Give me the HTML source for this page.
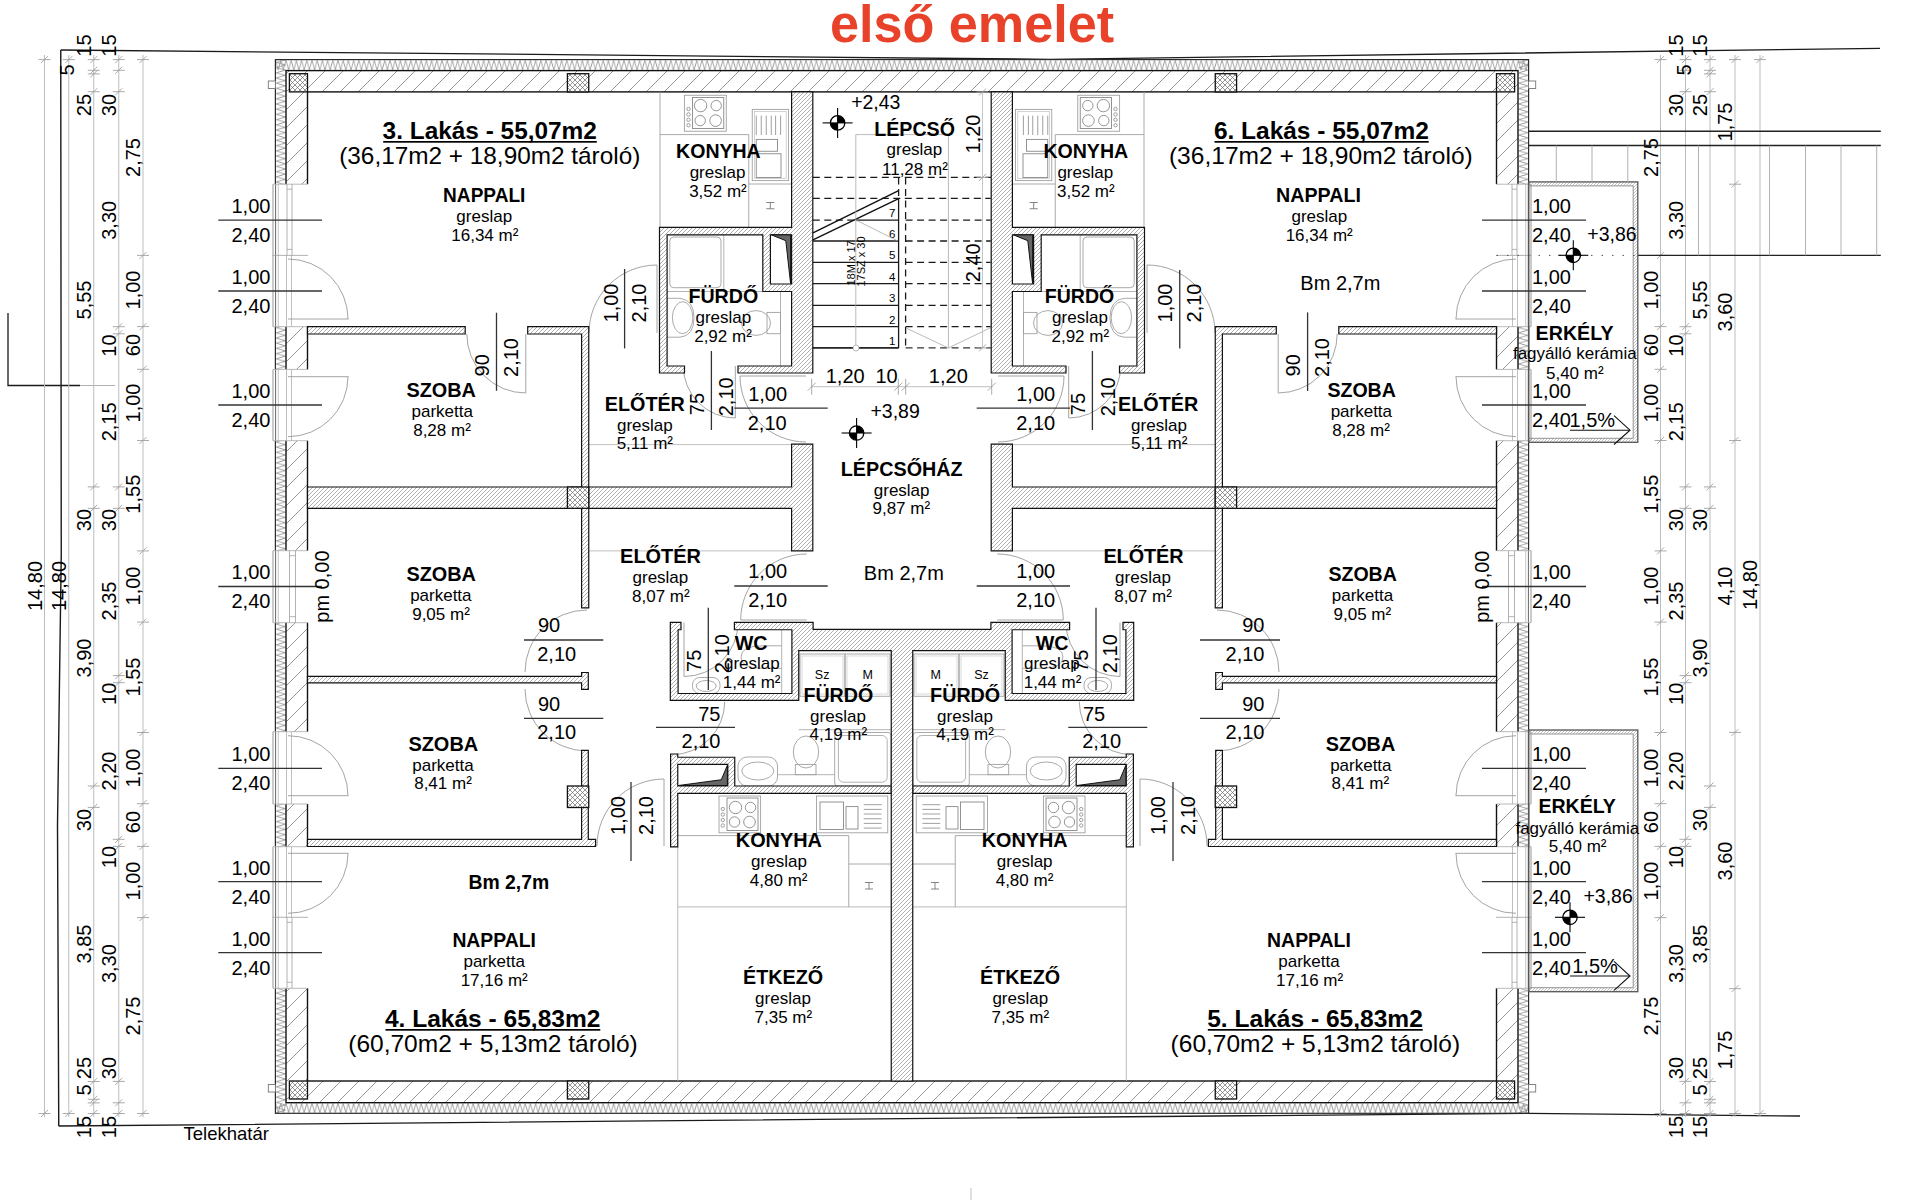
<!DOCTYPE html><html><head><meta charset="utf-8"><style>html,body{margin:0;padding:0;background:#fff;overflow:hidden}svg{display:block}text{font-family:"Liberation Sans",sans-serif}</style></head><body>
<svg width="1920" height="1200" viewBox="0 0 1920 1200">
<rect width="1920" height="1200" fill="#fff"/>
<defs>
<pattern id="hS" patternUnits="userSpaceOnUse" width="18" height="18"><path d="M0,18 L18,0 M-3,3 L3,-3 M15,21 L21,15" stroke="#8c8c8c" stroke-width="0.9" fill="none"/></pattern>
<pattern id="hD" patternUnits="userSpaceOnUse" width="4" height="4"><path d="M0,4 L4,0 M-1,1 L1,-1 M3,5 L5,3" stroke="#7a7a7a" stroke-width="0.6" fill="none"/></pattern>
<pattern id="hX" patternUnits="userSpaceOnUse" width="5" height="5"><path d="M0,5 L5,0 M0,0 L5,5" stroke="#6a6a6a" stroke-width="0.7" fill="none"/></pattern>
<pattern id="zT" patternUnits="userSpaceOnUse" x="0" y="59.6" width="5.2" height="11"><path d="M0,0.5 L2.6,10.5 L5.2,0.5" stroke="#8a8a8a" stroke-width="0.8" fill="none"/></pattern>
<pattern id="zB" patternUnits="userSpaceOnUse" x="0" y="1102.7" width="5.2" height="10.6"><path d="M0,0.5 L2.6,10.1 L5.2,0.5" stroke="#8a8a8a" stroke-width="0.8" fill="none"/></pattern>
<pattern id="zL" patternUnits="userSpaceOnUse" x="275.4" y="0" width="10.6" height="5.2"><path d="M0.5,0 L10.1,2.6 L0.5,5.2" stroke="#8a8a8a" stroke-width="0.8" fill="none"/></pattern>
<pattern id="zR" patternUnits="userSpaceOnUse" x="1518" y="0" width="10.6" height="5.2"><path d="M0.5,0 L10.1,2.6 L0.5,5.2" stroke="#8a8a8a" stroke-width="0.8" fill="none"/></pattern>
<pattern id="zE" patternUnits="userSpaceOnUse" width="3" height="3"><path d="M0,3 L3,0" stroke="#9a9a9a" stroke-width="0.6" fill="none"/></pattern>
</defs>
<path d="M60.75,50 L61.25,555 L57.5,825 L58.75,1126" fill="none" stroke="#1a1a1a" stroke-width="1.4" />
<path d="M60.75,50 L1050,59.3 L1880,48.3" fill="none" stroke="#1a1a1a" stroke-width="1.3" />
<path d="M58.75,1126 L1528.6,1113.3 L1800,1116" fill="none" stroke="#1a1a1a" stroke-width="1.3" />
<path d="M8,313 L8,385.5 L80,385.5" fill="none" stroke="#1a1a1a" stroke-width="1.3" />
<line x1="80" y1="385.5" x2="115" y2="385.5" stroke="#b0b0b0" stroke-width="1" />
<line x1="971" y1="1188" x2="971" y2="1200" stroke="#c0c0c0" stroke-width="1" />
<line x1="44.5" y1="55" x2="44.5" y2="1117" stroke="#bdbdbd" stroke-width="1" />
<line x1="68.75" y1="55" x2="68.75" y2="1117" stroke="#bdbdbd" stroke-width="1" />
<line x1="93.75" y1="55" x2="93.75" y2="1117" stroke="#bdbdbd" stroke-width="1" />
<line x1="118.75" y1="55" x2="118.75" y2="1117" stroke="#bdbdbd" stroke-width="1" />
<line x1="143" y1="55" x2="143" y2="1117" stroke="#bdbdbd" stroke-width="1" />
<line x1="1760" y1="55" x2="1760" y2="1117" stroke="#bdbdbd" stroke-width="1" />
<line x1="1735" y1="55" x2="1735" y2="1117" stroke="#bdbdbd" stroke-width="1" />
<line x1="1710" y1="55" x2="1710" y2="1117" stroke="#bdbdbd" stroke-width="1" />
<line x1="1685.5" y1="55" x2="1685.5" y2="1117" stroke="#bdbdbd" stroke-width="1" />
<line x1="1660.5" y1="55" x2="1660.5" y2="1117" stroke="#bdbdbd" stroke-width="1" />
<line x1="38.5" y1="59.6" x2="50.5" y2="59.6" stroke="#a0a0a0" stroke-width="0.9" />
<line x1="41" y1="63.1" x2="48" y2="56.1" stroke="#a0a0a0" stroke-width="0.9" />
<line x1="38.5" y1="1113.5" x2="50.5" y2="1113.5" stroke="#a0a0a0" stroke-width="0.9" />
<line x1="41" y1="1117" x2="48" y2="1110" stroke="#a0a0a0" stroke-width="0.9" />
<line x1="62.75" y1="59.6" x2="74.75" y2="59.6" stroke="#a0a0a0" stroke-width="0.9" />
<line x1="65.25" y1="63.1" x2="72.25" y2="56.1" stroke="#a0a0a0" stroke-width="0.9" />
<line x1="62.75" y1="1113.5" x2="74.75" y2="1113.5" stroke="#a0a0a0" stroke-width="0.9" />
<line x1="65.25" y1="1117" x2="72.25" y2="1110" stroke="#a0a0a0" stroke-width="0.9" />
<line x1="87.75" y1="59.6" x2="99.75" y2="59.6" stroke="#a0a0a0" stroke-width="0.9" />
<line x1="90.25" y1="63.1" x2="97.25" y2="56.1" stroke="#a0a0a0" stroke-width="0.9" />
<line x1="87.75" y1="70.3" x2="99.75" y2="70.3" stroke="#a0a0a0" stroke-width="0.9" />
<line x1="90.25" y1="73.8" x2="97.25" y2="66.8" stroke="#a0a0a0" stroke-width="0.9" />
<line x1="87.75" y1="73.9" x2="99.75" y2="73.9" stroke="#a0a0a0" stroke-width="0.9" />
<line x1="90.25" y1="77.4" x2="97.25" y2="70.4" stroke="#a0a0a0" stroke-width="0.9" />
<line x1="87.75" y1="91.7" x2="99.75" y2="91.7" stroke="#a0a0a0" stroke-width="0.9" />
<line x1="90.25" y1="95.2" x2="97.25" y2="88.2" stroke="#a0a0a0" stroke-width="0.9" />
<line x1="87.75" y1="486.9" x2="99.75" y2="486.9" stroke="#a0a0a0" stroke-width="0.9" />
<line x1="90.25" y1="490.4" x2="97.25" y2="483.4" stroke="#a0a0a0" stroke-width="0.9" />
<line x1="87.75" y1="508.3" x2="99.75" y2="508.3" stroke="#a0a0a0" stroke-width="0.9" />
<line x1="90.25" y1="511.8" x2="97.25" y2="504.8" stroke="#a0a0a0" stroke-width="0.9" />
<line x1="87.75" y1="786" x2="99.75" y2="786" stroke="#a0a0a0" stroke-width="0.9" />
<line x1="90.25" y1="789.5" x2="97.25" y2="782.5" stroke="#a0a0a0" stroke-width="0.9" />
<line x1="87.75" y1="807.4" x2="99.75" y2="807.4" stroke="#a0a0a0" stroke-width="0.9" />
<line x1="90.25" y1="810.9" x2="97.25" y2="803.9" stroke="#a0a0a0" stroke-width="0.9" />
<line x1="87.75" y1="1081.5" x2="99.75" y2="1081.5" stroke="#a0a0a0" stroke-width="0.9" />
<line x1="90.25" y1="1085" x2="97.25" y2="1078" stroke="#a0a0a0" stroke-width="0.9" />
<line x1="87.75" y1="1099.3" x2="99.75" y2="1099.3" stroke="#a0a0a0" stroke-width="0.9" />
<line x1="90.25" y1="1102.8" x2="97.25" y2="1095.8" stroke="#a0a0a0" stroke-width="0.9" />
<line x1="87.75" y1="1102.9" x2="99.75" y2="1102.9" stroke="#a0a0a0" stroke-width="0.9" />
<line x1="90.25" y1="1106.4" x2="97.25" y2="1099.4" stroke="#a0a0a0" stroke-width="0.9" />
<line x1="87.75" y1="1113.5" x2="99.75" y2="1113.5" stroke="#a0a0a0" stroke-width="0.9" />
<line x1="90.25" y1="1117" x2="97.25" y2="1110" stroke="#a0a0a0" stroke-width="0.9" />
<line x1="112.75" y1="59.6" x2="124.75" y2="59.6" stroke="#a0a0a0" stroke-width="0.9" />
<line x1="115.25" y1="63.1" x2="122.25" y2="56.1" stroke="#a0a0a0" stroke-width="0.9" />
<line x1="112.75" y1="70.3" x2="124.75" y2="70.3" stroke="#a0a0a0" stroke-width="0.9" />
<line x1="115.25" y1="73.8" x2="122.25" y2="66.8" stroke="#a0a0a0" stroke-width="0.9" />
<line x1="112.75" y1="91.7" x2="124.75" y2="91.7" stroke="#a0a0a0" stroke-width="0.9" />
<line x1="115.25" y1="95.2" x2="122.25" y2="88.2" stroke="#a0a0a0" stroke-width="0.9" />
<line x1="112.75" y1="326.7" x2="124.75" y2="326.7" stroke="#a0a0a0" stroke-width="0.9" />
<line x1="115.25" y1="330.2" x2="122.25" y2="323.2" stroke="#a0a0a0" stroke-width="0.9" />
<line x1="112.75" y1="333.8" x2="124.75" y2="333.8" stroke="#a0a0a0" stroke-width="0.9" />
<line x1="115.25" y1="337.3" x2="122.25" y2="330.3" stroke="#a0a0a0" stroke-width="0.9" />
<line x1="112.75" y1="486.9" x2="124.75" y2="486.9" stroke="#a0a0a0" stroke-width="0.9" />
<line x1="115.25" y1="490.4" x2="122.25" y2="483.4" stroke="#a0a0a0" stroke-width="0.9" />
<line x1="112.75" y1="508.3" x2="124.75" y2="508.3" stroke="#a0a0a0" stroke-width="0.9" />
<line x1="115.25" y1="511.8" x2="122.25" y2="504.8" stroke="#a0a0a0" stroke-width="0.9" />
<line x1="112.75" y1="675.6" x2="124.75" y2="675.6" stroke="#a0a0a0" stroke-width="0.9" />
<line x1="115.25" y1="679.1" x2="122.25" y2="672.1" stroke="#a0a0a0" stroke-width="0.9" />
<line x1="112.75" y1="682.7" x2="124.75" y2="682.7" stroke="#a0a0a0" stroke-width="0.9" />
<line x1="115.25" y1="686.2" x2="122.25" y2="679.2" stroke="#a0a0a0" stroke-width="0.9" />
<line x1="112.75" y1="839.3" x2="124.75" y2="839.3" stroke="#a0a0a0" stroke-width="0.9" />
<line x1="115.25" y1="842.8" x2="122.25" y2="835.8" stroke="#a0a0a0" stroke-width="0.9" />
<line x1="112.75" y1="846.4" x2="124.75" y2="846.4" stroke="#a0a0a0" stroke-width="0.9" />
<line x1="115.25" y1="849.9" x2="122.25" y2="842.9" stroke="#a0a0a0" stroke-width="0.9" />
<line x1="112.75" y1="1081.4" x2="124.75" y2="1081.4" stroke="#a0a0a0" stroke-width="0.9" />
<line x1="115.25" y1="1084.9" x2="122.25" y2="1077.9" stroke="#a0a0a0" stroke-width="0.9" />
<line x1="112.75" y1="1102.8" x2="124.75" y2="1102.8" stroke="#a0a0a0" stroke-width="0.9" />
<line x1="115.25" y1="1106.3" x2="122.25" y2="1099.3" stroke="#a0a0a0" stroke-width="0.9" />
<line x1="112.75" y1="1113.5" x2="124.75" y2="1113.5" stroke="#a0a0a0" stroke-width="0.9" />
<line x1="115.25" y1="1117" x2="122.25" y2="1110" stroke="#a0a0a0" stroke-width="0.9" />
<line x1="137" y1="59.6" x2="149" y2="59.6" stroke="#a0a0a0" stroke-width="0.9" />
<line x1="139.5" y1="63.1" x2="146.5" y2="56.1" stroke="#a0a0a0" stroke-width="0.9" />
<line x1="137" y1="255.4" x2="149" y2="255.4" stroke="#a0a0a0" stroke-width="0.9" />
<line x1="139.5" y1="258.9" x2="146.5" y2="251.9" stroke="#a0a0a0" stroke-width="0.9" />
<line x1="137" y1="326.6" x2="149" y2="326.6" stroke="#a0a0a0" stroke-width="0.9" />
<line x1="139.5" y1="330.1" x2="146.5" y2="323.1" stroke="#a0a0a0" stroke-width="0.9" />
<line x1="137" y1="369.3" x2="149" y2="369.3" stroke="#a0a0a0" stroke-width="0.9" />
<line x1="139.5" y1="372.8" x2="146.5" y2="365.8" stroke="#a0a0a0" stroke-width="0.9" />
<line x1="137" y1="440.5" x2="149" y2="440.5" stroke="#a0a0a0" stroke-width="0.9" />
<line x1="139.5" y1="444" x2="146.5" y2="437" stroke="#a0a0a0" stroke-width="0.9" />
<line x1="137" y1="550.9" x2="149" y2="550.9" stroke="#a0a0a0" stroke-width="0.9" />
<line x1="139.5" y1="554.4" x2="146.5" y2="547.4" stroke="#a0a0a0" stroke-width="0.9" />
<line x1="137" y1="622.1" x2="149" y2="622.1" stroke="#a0a0a0" stroke-width="0.9" />
<line x1="139.5" y1="625.6" x2="146.5" y2="618.6" stroke="#a0a0a0" stroke-width="0.9" />
<line x1="137" y1="732.5" x2="149" y2="732.5" stroke="#a0a0a0" stroke-width="0.9" />
<line x1="139.5" y1="736" x2="146.5" y2="729" stroke="#a0a0a0" stroke-width="0.9" />
<line x1="137" y1="803.7" x2="149" y2="803.7" stroke="#a0a0a0" stroke-width="0.9" />
<line x1="139.5" y1="807.2" x2="146.5" y2="800.2" stroke="#a0a0a0" stroke-width="0.9" />
<line x1="137" y1="846.4" x2="149" y2="846.4" stroke="#a0a0a0" stroke-width="0.9" />
<line x1="139.5" y1="849.9" x2="146.5" y2="842.9" stroke="#a0a0a0" stroke-width="0.9" />
<line x1="137" y1="917.6" x2="149" y2="917.6" stroke="#a0a0a0" stroke-width="0.9" />
<line x1="139.5" y1="921.1" x2="146.5" y2="914.1" stroke="#a0a0a0" stroke-width="0.9" />
<line x1="137" y1="1113.5" x2="149" y2="1113.5" stroke="#a0a0a0" stroke-width="0.9" />
<line x1="139.5" y1="1117" x2="146.5" y2="1110" stroke="#a0a0a0" stroke-width="0.9" />
<line x1="1754" y1="59.6" x2="1766" y2="59.6" stroke="#a0a0a0" stroke-width="0.9" />
<line x1="1756.5" y1="63.1" x2="1763.5" y2="56.1" stroke="#a0a0a0" stroke-width="0.9" />
<line x1="1754" y1="1113.5" x2="1766" y2="1113.5" stroke="#a0a0a0" stroke-width="0.9" />
<line x1="1756.5" y1="1117" x2="1763.5" y2="1110" stroke="#a0a0a0" stroke-width="0.9" />
<line x1="1729" y1="59.6" x2="1741" y2="59.6" stroke="#a0a0a0" stroke-width="0.9" />
<line x1="1731.5" y1="63.1" x2="1738.5" y2="56.1" stroke="#a0a0a0" stroke-width="0.9" />
<line x1="1729" y1="184.2" x2="1741" y2="184.2" stroke="#a0a0a0" stroke-width="0.9" />
<line x1="1731.5" y1="187.7" x2="1738.5" y2="180.7" stroke="#a0a0a0" stroke-width="0.9" />
<line x1="1729" y1="440.5" x2="1741" y2="440.5" stroke="#a0a0a0" stroke-width="0.9" />
<line x1="1731.5" y1="444" x2="1738.5" y2="437" stroke="#a0a0a0" stroke-width="0.9" />
<line x1="1729" y1="732.4" x2="1741" y2="732.4" stroke="#a0a0a0" stroke-width="0.9" />
<line x1="1731.5" y1="735.9" x2="1738.5" y2="728.9" stroke="#a0a0a0" stroke-width="0.9" />
<line x1="1729" y1="988.7" x2="1741" y2="988.7" stroke="#a0a0a0" stroke-width="0.9" />
<line x1="1731.5" y1="992.2" x2="1738.5" y2="985.2" stroke="#a0a0a0" stroke-width="0.9" />
<line x1="1729" y1="1113.5" x2="1741" y2="1113.5" stroke="#a0a0a0" stroke-width="0.9" />
<line x1="1731.5" y1="1117" x2="1738.5" y2="1110" stroke="#a0a0a0" stroke-width="0.9" />
<line x1="1704" y1="59.6" x2="1716" y2="59.6" stroke="#a0a0a0" stroke-width="0.9" />
<line x1="1706.5" y1="63.1" x2="1713.5" y2="56.1" stroke="#a0a0a0" stroke-width="0.9" />
<line x1="1704" y1="70.3" x2="1716" y2="70.3" stroke="#a0a0a0" stroke-width="0.9" />
<line x1="1706.5" y1="73.8" x2="1713.5" y2="66.8" stroke="#a0a0a0" stroke-width="0.9" />
<line x1="1704" y1="73.9" x2="1716" y2="73.9" stroke="#a0a0a0" stroke-width="0.9" />
<line x1="1706.5" y1="77.4" x2="1713.5" y2="70.4" stroke="#a0a0a0" stroke-width="0.9" />
<line x1="1704" y1="91.7" x2="1716" y2="91.7" stroke="#a0a0a0" stroke-width="0.9" />
<line x1="1706.5" y1="95.2" x2="1713.5" y2="88.2" stroke="#a0a0a0" stroke-width="0.9" />
<line x1="1704" y1="486.9" x2="1716" y2="486.9" stroke="#a0a0a0" stroke-width="0.9" />
<line x1="1706.5" y1="490.4" x2="1713.5" y2="483.4" stroke="#a0a0a0" stroke-width="0.9" />
<line x1="1704" y1="508.3" x2="1716" y2="508.3" stroke="#a0a0a0" stroke-width="0.9" />
<line x1="1706.5" y1="511.8" x2="1713.5" y2="504.8" stroke="#a0a0a0" stroke-width="0.9" />
<line x1="1704" y1="786" x2="1716" y2="786" stroke="#a0a0a0" stroke-width="0.9" />
<line x1="1706.5" y1="789.5" x2="1713.5" y2="782.5" stroke="#a0a0a0" stroke-width="0.9" />
<line x1="1704" y1="807.4" x2="1716" y2="807.4" stroke="#a0a0a0" stroke-width="0.9" />
<line x1="1706.5" y1="810.9" x2="1713.5" y2="803.9" stroke="#a0a0a0" stroke-width="0.9" />
<line x1="1704" y1="1081.5" x2="1716" y2="1081.5" stroke="#a0a0a0" stroke-width="0.9" />
<line x1="1706.5" y1="1085" x2="1713.5" y2="1078" stroke="#a0a0a0" stroke-width="0.9" />
<line x1="1704" y1="1099.3" x2="1716" y2="1099.3" stroke="#a0a0a0" stroke-width="0.9" />
<line x1="1706.5" y1="1102.8" x2="1713.5" y2="1095.8" stroke="#a0a0a0" stroke-width="0.9" />
<line x1="1704" y1="1102.9" x2="1716" y2="1102.9" stroke="#a0a0a0" stroke-width="0.9" />
<line x1="1706.5" y1="1106.4" x2="1713.5" y2="1099.4" stroke="#a0a0a0" stroke-width="0.9" />
<line x1="1704" y1="1113.5" x2="1716" y2="1113.5" stroke="#a0a0a0" stroke-width="0.9" />
<line x1="1706.5" y1="1117" x2="1713.5" y2="1110" stroke="#a0a0a0" stroke-width="0.9" />
<line x1="1679.5" y1="59.6" x2="1691.5" y2="59.6" stroke="#a0a0a0" stroke-width="0.9" />
<line x1="1682" y1="63.1" x2="1689" y2="56.1" stroke="#a0a0a0" stroke-width="0.9" />
<line x1="1679.5" y1="70.3" x2="1691.5" y2="70.3" stroke="#a0a0a0" stroke-width="0.9" />
<line x1="1682" y1="73.8" x2="1689" y2="66.8" stroke="#a0a0a0" stroke-width="0.9" />
<line x1="1679.5" y1="91.7" x2="1691.5" y2="91.7" stroke="#a0a0a0" stroke-width="0.9" />
<line x1="1682" y1="95.2" x2="1689" y2="88.2" stroke="#a0a0a0" stroke-width="0.9" />
<line x1="1679.5" y1="326.7" x2="1691.5" y2="326.7" stroke="#a0a0a0" stroke-width="0.9" />
<line x1="1682" y1="330.2" x2="1689" y2="323.2" stroke="#a0a0a0" stroke-width="0.9" />
<line x1="1679.5" y1="333.8" x2="1691.5" y2="333.8" stroke="#a0a0a0" stroke-width="0.9" />
<line x1="1682" y1="337.3" x2="1689" y2="330.3" stroke="#a0a0a0" stroke-width="0.9" />
<line x1="1679.5" y1="486.9" x2="1691.5" y2="486.9" stroke="#a0a0a0" stroke-width="0.9" />
<line x1="1682" y1="490.4" x2="1689" y2="483.4" stroke="#a0a0a0" stroke-width="0.9" />
<line x1="1679.5" y1="508.3" x2="1691.5" y2="508.3" stroke="#a0a0a0" stroke-width="0.9" />
<line x1="1682" y1="511.8" x2="1689" y2="504.8" stroke="#a0a0a0" stroke-width="0.9" />
<line x1="1679.5" y1="675.6" x2="1691.5" y2="675.6" stroke="#a0a0a0" stroke-width="0.9" />
<line x1="1682" y1="679.1" x2="1689" y2="672.1" stroke="#a0a0a0" stroke-width="0.9" />
<line x1="1679.5" y1="682.7" x2="1691.5" y2="682.7" stroke="#a0a0a0" stroke-width="0.9" />
<line x1="1682" y1="686.2" x2="1689" y2="679.2" stroke="#a0a0a0" stroke-width="0.9" />
<line x1="1679.5" y1="839.3" x2="1691.5" y2="839.3" stroke="#a0a0a0" stroke-width="0.9" />
<line x1="1682" y1="842.8" x2="1689" y2="835.8" stroke="#a0a0a0" stroke-width="0.9" />
<line x1="1679.5" y1="846.4" x2="1691.5" y2="846.4" stroke="#a0a0a0" stroke-width="0.9" />
<line x1="1682" y1="849.9" x2="1689" y2="842.9" stroke="#a0a0a0" stroke-width="0.9" />
<line x1="1679.5" y1="1081.4" x2="1691.5" y2="1081.4" stroke="#a0a0a0" stroke-width="0.9" />
<line x1="1682" y1="1084.9" x2="1689" y2="1077.9" stroke="#a0a0a0" stroke-width="0.9" />
<line x1="1679.5" y1="1102.8" x2="1691.5" y2="1102.8" stroke="#a0a0a0" stroke-width="0.9" />
<line x1="1682" y1="1106.3" x2="1689" y2="1099.3" stroke="#a0a0a0" stroke-width="0.9" />
<line x1="1679.5" y1="1113.5" x2="1691.5" y2="1113.5" stroke="#a0a0a0" stroke-width="0.9" />
<line x1="1682" y1="1117" x2="1689" y2="1110" stroke="#a0a0a0" stroke-width="0.9" />
<line x1="1654.5" y1="59.6" x2="1666.5" y2="59.6" stroke="#a0a0a0" stroke-width="0.9" />
<line x1="1657" y1="63.1" x2="1664" y2="56.1" stroke="#a0a0a0" stroke-width="0.9" />
<line x1="1654.5" y1="255.4" x2="1666.5" y2="255.4" stroke="#a0a0a0" stroke-width="0.9" />
<line x1="1657" y1="258.9" x2="1664" y2="251.9" stroke="#a0a0a0" stroke-width="0.9" />
<line x1="1654.5" y1="326.6" x2="1666.5" y2="326.6" stroke="#a0a0a0" stroke-width="0.9" />
<line x1="1657" y1="330.1" x2="1664" y2="323.1" stroke="#a0a0a0" stroke-width="0.9" />
<line x1="1654.5" y1="369.3" x2="1666.5" y2="369.3" stroke="#a0a0a0" stroke-width="0.9" />
<line x1="1657" y1="372.8" x2="1664" y2="365.8" stroke="#a0a0a0" stroke-width="0.9" />
<line x1="1654.5" y1="440.5" x2="1666.5" y2="440.5" stroke="#a0a0a0" stroke-width="0.9" />
<line x1="1657" y1="444" x2="1664" y2="437" stroke="#a0a0a0" stroke-width="0.9" />
<line x1="1654.5" y1="550.9" x2="1666.5" y2="550.9" stroke="#a0a0a0" stroke-width="0.9" />
<line x1="1657" y1="554.4" x2="1664" y2="547.4" stroke="#a0a0a0" stroke-width="0.9" />
<line x1="1654.5" y1="622.1" x2="1666.5" y2="622.1" stroke="#a0a0a0" stroke-width="0.9" />
<line x1="1657" y1="625.6" x2="1664" y2="618.6" stroke="#a0a0a0" stroke-width="0.9" />
<line x1="1654.5" y1="732.5" x2="1666.5" y2="732.5" stroke="#a0a0a0" stroke-width="0.9" />
<line x1="1657" y1="736" x2="1664" y2="729" stroke="#a0a0a0" stroke-width="0.9" />
<line x1="1654.5" y1="803.7" x2="1666.5" y2="803.7" stroke="#a0a0a0" stroke-width="0.9" />
<line x1="1657" y1="807.2" x2="1664" y2="800.2" stroke="#a0a0a0" stroke-width="0.9" />
<line x1="1654.5" y1="846.4" x2="1666.5" y2="846.4" stroke="#a0a0a0" stroke-width="0.9" />
<line x1="1657" y1="849.9" x2="1664" y2="842.9" stroke="#a0a0a0" stroke-width="0.9" />
<line x1="1654.5" y1="917.6" x2="1666.5" y2="917.6" stroke="#a0a0a0" stroke-width="0.9" />
<line x1="1657" y1="921.1" x2="1664" y2="914.1" stroke="#a0a0a0" stroke-width="0.9" />
<line x1="1654.5" y1="1113.5" x2="1666.5" y2="1113.5" stroke="#a0a0a0" stroke-width="0.9" />
<line x1="1657" y1="1117" x2="1664" y2="1110" stroke="#a0a0a0" stroke-width="0.9" />
<text transform="translate(91.05,105) rotate(-90)" font-size="20" text-anchor="middle" fill="#000">25</text>
<text transform="translate(91.05,300) rotate(-90)" font-size="20" text-anchor="middle" fill="#000">5,55</text>
<text transform="translate(91.05,520) rotate(-90)" font-size="20" text-anchor="middle" fill="#000">30</text>
<text transform="translate(91.05,658) rotate(-90)" font-size="20" text-anchor="middle" fill="#000">3,90</text>
<text transform="translate(91.05,820) rotate(-90)" font-size="20" text-anchor="middle" fill="#000">30</text>
<text transform="translate(91.05,944) rotate(-90)" font-size="20" text-anchor="middle" fill="#000">3,85</text>
<text transform="translate(91.05,1068) rotate(-90)" font-size="20" text-anchor="middle" fill="#000">25</text>
<text transform="translate(91.05,1090) rotate(-90)" font-size="20" text-anchor="middle" fill="#000">5</text>
<text transform="translate(91.05,1127) rotate(-90)" font-size="20" text-anchor="middle" fill="#000">15</text>
<text transform="translate(91.05,45.6) rotate(-90)" font-size="20" text-anchor="middle" fill="#000">15</text>
<text transform="translate(116.05,45.6) rotate(-90)" font-size="20" text-anchor="middle" fill="#000">15</text>
<text transform="translate(116.05,105) rotate(-90)" font-size="20" text-anchor="middle" fill="#000">30</text>
<text transform="translate(116.05,220.3) rotate(-90)" font-size="20" text-anchor="middle" fill="#000">3,30</text>
<text transform="translate(116.05,345.6) rotate(-90)" font-size="20" text-anchor="middle" fill="#000">10</text>
<text transform="translate(116.05,421.9) rotate(-90)" font-size="20" text-anchor="middle" fill="#000">2,15</text>
<text transform="translate(116.05,520) rotate(-90)" font-size="20" text-anchor="middle" fill="#000">30</text>
<text transform="translate(116.05,601) rotate(-90)" font-size="20" text-anchor="middle" fill="#000">2,35</text>
<text transform="translate(116.05,693.8) rotate(-90)" font-size="20" text-anchor="middle" fill="#000">10</text>
<text transform="translate(116.05,771) rotate(-90)" font-size="20" text-anchor="middle" fill="#000">2,20</text>
<text transform="translate(116.05,857) rotate(-90)" font-size="20" text-anchor="middle" fill="#000">10</text>
<text transform="translate(116.05,963.6) rotate(-90)" font-size="20" text-anchor="middle" fill="#000">3,30</text>
<text transform="translate(116.05,1068) rotate(-90)" font-size="20" text-anchor="middle" fill="#000">30</text>
<text transform="translate(116.05,1127) rotate(-90)" font-size="20" text-anchor="middle" fill="#000">15</text>
<text transform="translate(140.3,157.5) rotate(-90)" font-size="20" text-anchor="middle" fill="#000">2,75</text>
<text transform="translate(140.3,290) rotate(-90)" font-size="20" text-anchor="middle" fill="#000">1,00</text>
<text transform="translate(140.3,345) rotate(-90)" font-size="20" text-anchor="middle" fill="#000">60</text>
<text transform="translate(140.3,403) rotate(-90)" font-size="20" text-anchor="middle" fill="#000">1,00</text>
<text transform="translate(140.3,494.2) rotate(-90)" font-size="20" text-anchor="middle" fill="#000">1,55</text>
<text transform="translate(140.3,586) rotate(-90)" font-size="20" text-anchor="middle" fill="#000">1,00</text>
<text transform="translate(140.3,677) rotate(-90)" font-size="20" text-anchor="middle" fill="#000">1,55</text>
<text transform="translate(140.3,768) rotate(-90)" font-size="20" text-anchor="middle" fill="#000">1,00</text>
<text transform="translate(140.3,822) rotate(-90)" font-size="20" text-anchor="middle" fill="#000">60</text>
<text transform="translate(140.3,881) rotate(-90)" font-size="20" text-anchor="middle" fill="#000">1,00</text>
<text transform="translate(140.3,1016) rotate(-90)" font-size="20" text-anchor="middle" fill="#000">2,75</text>
<text transform="translate(1707.3,105) rotate(-90)" font-size="20" text-anchor="middle" fill="#000">25</text>
<text transform="translate(1707.3,300) rotate(-90)" font-size="20" text-anchor="middle" fill="#000">5,55</text>
<text transform="translate(1707.3,520) rotate(-90)" font-size="20" text-anchor="middle" fill="#000">30</text>
<text transform="translate(1707.3,658) rotate(-90)" font-size="20" text-anchor="middle" fill="#000">3,90</text>
<text transform="translate(1707.3,820) rotate(-90)" font-size="20" text-anchor="middle" fill="#000">30</text>
<text transform="translate(1707.3,944) rotate(-90)" font-size="20" text-anchor="middle" fill="#000">3,85</text>
<text transform="translate(1707.3,1068) rotate(-90)" font-size="20" text-anchor="middle" fill="#000">25</text>
<text transform="translate(1707.3,1090) rotate(-90)" font-size="20" text-anchor="middle" fill="#000">5</text>
<text transform="translate(1707.3,1127) rotate(-90)" font-size="20" text-anchor="middle" fill="#000">15</text>
<text transform="translate(1707.3,45.6) rotate(-90)" font-size="20" text-anchor="middle" fill="#000">15</text>
<text transform="translate(1682.8,45.6) rotate(-90)" font-size="20" text-anchor="middle" fill="#000">15</text>
<text transform="translate(1682.8,105) rotate(-90)" font-size="20" text-anchor="middle" fill="#000">30</text>
<text transform="translate(1682.8,220.3) rotate(-90)" font-size="20" text-anchor="middle" fill="#000">3,30</text>
<text transform="translate(1682.8,345.6) rotate(-90)" font-size="20" text-anchor="middle" fill="#000">10</text>
<text transform="translate(1682.8,421.9) rotate(-90)" font-size="20" text-anchor="middle" fill="#000">2,15</text>
<text transform="translate(1682.8,520) rotate(-90)" font-size="20" text-anchor="middle" fill="#000">30</text>
<text transform="translate(1682.8,601) rotate(-90)" font-size="20" text-anchor="middle" fill="#000">2,35</text>
<text transform="translate(1682.8,693.8) rotate(-90)" font-size="20" text-anchor="middle" fill="#000">10</text>
<text transform="translate(1682.8,771) rotate(-90)" font-size="20" text-anchor="middle" fill="#000">2,20</text>
<text transform="translate(1682.8,857) rotate(-90)" font-size="20" text-anchor="middle" fill="#000">10</text>
<text transform="translate(1682.8,963.6) rotate(-90)" font-size="20" text-anchor="middle" fill="#000">3,30</text>
<text transform="translate(1682.8,1068) rotate(-90)" font-size="20" text-anchor="middle" fill="#000">30</text>
<text transform="translate(1682.8,1127) rotate(-90)" font-size="20" text-anchor="middle" fill="#000">15</text>
<text transform="translate(1657.8,157.5) rotate(-90)" font-size="20" text-anchor="middle" fill="#000">2,75</text>
<text transform="translate(1657.8,290) rotate(-90)" font-size="20" text-anchor="middle" fill="#000">1,00</text>
<text transform="translate(1657.8,345) rotate(-90)" font-size="20" text-anchor="middle" fill="#000">60</text>
<text transform="translate(1657.8,403) rotate(-90)" font-size="20" text-anchor="middle" fill="#000">1,00</text>
<text transform="translate(1657.8,494.2) rotate(-90)" font-size="20" text-anchor="middle" fill="#000">1,55</text>
<text transform="translate(1657.8,586) rotate(-90)" font-size="20" text-anchor="middle" fill="#000">1,00</text>
<text transform="translate(1657.8,677) rotate(-90)" font-size="20" text-anchor="middle" fill="#000">1,55</text>
<text transform="translate(1657.8,768) rotate(-90)" font-size="20" text-anchor="middle" fill="#000">1,00</text>
<text transform="translate(1657.8,822) rotate(-90)" font-size="20" text-anchor="middle" fill="#000">60</text>
<text transform="translate(1657.8,881) rotate(-90)" font-size="20" text-anchor="middle" fill="#000">1,00</text>
<text transform="translate(1657.8,1016) rotate(-90)" font-size="20" text-anchor="middle" fill="#000">2,75</text>
<text transform="translate(74.3,70) rotate(-90)" font-size="20" text-anchor="middle" fill="#000">5</text>
<text transform="translate(1690.5,70) rotate(-90)" font-size="20" text-anchor="middle" fill="#000">5</text>
<text transform="translate(41.8,586) rotate(-90)" font-size="20" text-anchor="middle" fill="#000">14,80</text>
<text transform="translate(66.05,586) rotate(-90)" font-size="20" text-anchor="middle" fill="#000">14,80</text>
<text transform="translate(1757.3,585) rotate(-90)" font-size="20" text-anchor="middle" fill="#000">14,80</text>
<text transform="translate(1732.3,122) rotate(-90)" font-size="20" text-anchor="middle" fill="#000">1,75</text>
<text transform="translate(1732.3,312) rotate(-90)" font-size="20" text-anchor="middle" fill="#000">3,60</text>
<text transform="translate(1732.3,586) rotate(-90)" font-size="20" text-anchor="middle" fill="#000">4,10</text>
<text transform="translate(1732.3,861) rotate(-90)" font-size="20" text-anchor="middle" fill="#000">3,60</text>
<text transform="translate(1732.3,1050) rotate(-90)" font-size="20" text-anchor="middle" fill="#000">1,75</text>
<rect x="275.4" y="59.6" width="1253.2" height="11" fill="url(#zT)" stroke="none" stroke-width="1" />
<rect x="275.4" y="1102.7" width="1253.2" height="10.6" fill="url(#zB)" stroke="none" stroke-width="1" />
<rect x="275.4" y="59.6" width="10.6" height="1053.7" fill="url(#zL)" stroke="none" stroke-width="1" />
<rect x="1518" y="59.6" width="10.6" height="1053.7" fill="url(#zR)" stroke="none" stroke-width="1" />
<rect x="286" y="70.6" width="1232" height="21.3" fill="url(#hS)" stroke="none" stroke-width="1" />
<rect x="286" y="1081" width="1232" height="21.7" fill="url(#hS)" stroke="none" stroke-width="1" />
<rect x="286" y="91.9" width="21.5" height="989.1" fill="url(#hS)" stroke="none" stroke-width="1" />
<rect x="1496.5" y="91.9" width="21.5" height="989.1" fill="url(#hS)" stroke="none" stroke-width="1" />
<rect x="275.4" y="59.6" width="1253.2" height="1053.7" fill="none" stroke="#2a2a2a" stroke-width="1.2" />
<rect x="286" y="70.6" width="1232" height="1032.1" fill="none" stroke="#111" stroke-width="1.4" />
<rect x="307.5" y="91.9" width="1189" height="989.1" fill="none" stroke="#111" stroke-width="1.4" />
<rect x="266" y="184.2" width="43" height="142.5" fill="#fff" stroke="none" stroke-width="1" />
<rect x="1495" y="184.2" width="43" height="142.5" fill="#fff" stroke="none" stroke-width="1" />
<rect x="266" y="369.4" width="43" height="71.3" fill="#fff" stroke="none" stroke-width="1" />
<rect x="1495" y="369.4" width="43" height="71.3" fill="#fff" stroke="none" stroke-width="1" />
<rect x="266" y="550.7" width="43" height="72" fill="#fff" stroke="none" stroke-width="1" />
<rect x="1495" y="550.7" width="43" height="72" fill="#fff" stroke="none" stroke-width="1" />
<rect x="266" y="731.7" width="43" height="72.3" fill="#fff" stroke="none" stroke-width="1" />
<rect x="1495" y="731.7" width="43" height="72.3" fill="#fff" stroke="none" stroke-width="1" />
<rect x="266" y="846.7" width="43" height="141.6" fill="#fff" stroke="none" stroke-width="1" />
<rect x="1495" y="846.7" width="43" height="141.6" fill="#fff" stroke="none" stroke-width="1" />
<line x1="273" y1="184.2" x2="273" y2="326.7" stroke="#8a8a8a" stroke-width="0.9" />
<line x1="275.6" y1="184.2" x2="275.6" y2="326.7" stroke="#666" stroke-width="1" />
<line x1="278.3" y1="184.2" x2="278.3" y2="326.7" stroke="#b8b8b8" stroke-width="0.8" />
<line x1="273" y1="184.2" x2="307.5" y2="184.2" stroke="#a8a8a8" stroke-width="0.8" />
<line x1="273" y1="326.7" x2="307.5" y2="326.7" stroke="#a8a8a8" stroke-width="0.8" />
<line x1="1531" y1="184.2" x2="1531" y2="326.7" stroke="#8a8a8a" stroke-width="0.9" />
<line x1="1528.4" y1="184.2" x2="1528.4" y2="326.7" stroke="#666" stroke-width="1" />
<line x1="1525.7" y1="184.2" x2="1525.7" y2="326.7" stroke="#b8b8b8" stroke-width="0.8" />
<line x1="1531" y1="184.2" x2="1496.5" y2="184.2" stroke="#a8a8a8" stroke-width="0.8" />
<line x1="1531" y1="326.7" x2="1496.5" y2="326.7" stroke="#a8a8a8" stroke-width="0.8" />
<line x1="273" y1="369.4" x2="273" y2="440.7" stroke="#8a8a8a" stroke-width="0.9" />
<line x1="275.6" y1="369.4" x2="275.6" y2="440.7" stroke="#666" stroke-width="1" />
<line x1="278.3" y1="369.4" x2="278.3" y2="440.7" stroke="#b8b8b8" stroke-width="0.8" />
<line x1="273" y1="369.4" x2="307.5" y2="369.4" stroke="#a8a8a8" stroke-width="0.8" />
<line x1="273" y1="440.7" x2="307.5" y2="440.7" stroke="#a8a8a8" stroke-width="0.8" />
<line x1="1531" y1="369.4" x2="1531" y2="440.7" stroke="#8a8a8a" stroke-width="0.9" />
<line x1="1528.4" y1="369.4" x2="1528.4" y2="440.7" stroke="#666" stroke-width="1" />
<line x1="1525.7" y1="369.4" x2="1525.7" y2="440.7" stroke="#b8b8b8" stroke-width="0.8" />
<line x1="1531" y1="369.4" x2="1496.5" y2="369.4" stroke="#a8a8a8" stroke-width="0.8" />
<line x1="1531" y1="440.7" x2="1496.5" y2="440.7" stroke="#a8a8a8" stroke-width="0.8" />
<line x1="273" y1="550.7" x2="273" y2="622.7" stroke="#8a8a8a" stroke-width="0.9" />
<line x1="275.6" y1="550.7" x2="275.6" y2="622.7" stroke="#666" stroke-width="1" />
<line x1="278.3" y1="550.7" x2="278.3" y2="622.7" stroke="#b8b8b8" stroke-width="0.8" />
<line x1="273" y1="550.7" x2="307.5" y2="550.7" stroke="#a8a8a8" stroke-width="0.8" />
<line x1="273" y1="622.7" x2="307.5" y2="622.7" stroke="#a8a8a8" stroke-width="0.8" />
<line x1="1531" y1="550.7" x2="1531" y2="622.7" stroke="#8a8a8a" stroke-width="0.9" />
<line x1="1528.4" y1="550.7" x2="1528.4" y2="622.7" stroke="#666" stroke-width="1" />
<line x1="1525.7" y1="550.7" x2="1525.7" y2="622.7" stroke="#b8b8b8" stroke-width="0.8" />
<line x1="1531" y1="550.7" x2="1496.5" y2="550.7" stroke="#a8a8a8" stroke-width="0.8" />
<line x1="1531" y1="622.7" x2="1496.5" y2="622.7" stroke="#a8a8a8" stroke-width="0.8" />
<line x1="273" y1="731.7" x2="273" y2="804" stroke="#8a8a8a" stroke-width="0.9" />
<line x1="275.6" y1="731.7" x2="275.6" y2="804" stroke="#666" stroke-width="1" />
<line x1="278.3" y1="731.7" x2="278.3" y2="804" stroke="#b8b8b8" stroke-width="0.8" />
<line x1="273" y1="731.7" x2="307.5" y2="731.7" stroke="#a8a8a8" stroke-width="0.8" />
<line x1="273" y1="804" x2="307.5" y2="804" stroke="#a8a8a8" stroke-width="0.8" />
<line x1="1531" y1="731.7" x2="1531" y2="804" stroke="#8a8a8a" stroke-width="0.9" />
<line x1="1528.4" y1="731.7" x2="1528.4" y2="804" stroke="#666" stroke-width="1" />
<line x1="1525.7" y1="731.7" x2="1525.7" y2="804" stroke="#b8b8b8" stroke-width="0.8" />
<line x1="1531" y1="731.7" x2="1496.5" y2="731.7" stroke="#a8a8a8" stroke-width="0.8" />
<line x1="1531" y1="804" x2="1496.5" y2="804" stroke="#a8a8a8" stroke-width="0.8" />
<line x1="273" y1="846.7" x2="273" y2="988.3" stroke="#8a8a8a" stroke-width="0.9" />
<line x1="275.6" y1="846.7" x2="275.6" y2="988.3" stroke="#666" stroke-width="1" />
<line x1="278.3" y1="846.7" x2="278.3" y2="988.3" stroke="#b8b8b8" stroke-width="0.8" />
<line x1="273" y1="846.7" x2="307.5" y2="846.7" stroke="#a8a8a8" stroke-width="0.8" />
<line x1="273" y1="988.3" x2="307.5" y2="988.3" stroke="#a8a8a8" stroke-width="0.8" />
<line x1="1531" y1="846.7" x2="1531" y2="988.3" stroke="#8a8a8a" stroke-width="0.9" />
<line x1="1528.4" y1="846.7" x2="1528.4" y2="988.3" stroke="#666" stroke-width="1" />
<line x1="1525.7" y1="846.7" x2="1525.7" y2="988.3" stroke="#b8b8b8" stroke-width="0.8" />
<line x1="1531" y1="846.7" x2="1496.5" y2="846.7" stroke="#a8a8a8" stroke-width="0.8" />
<line x1="1531" y1="988.3" x2="1496.5" y2="988.3" stroke="#a8a8a8" stroke-width="0.8" />
<line x1="287" y1="184.2" x2="287" y2="255.4" stroke="#a0a0a0" stroke-width="0.8" />
<line x1="292" y1="184.2" x2="292" y2="255.4" stroke="#a0a0a0" stroke-width="0.8" />
<line x1="287" y1="189.2" x2="292" y2="189.2" stroke="#a0a0a0" stroke-width="0.8" />
<line x1="287" y1="249.4" x2="292" y2="249.4" stroke="#a0a0a0" stroke-width="0.8" />
<line x1="1517" y1="184.2" x2="1517" y2="255.4" stroke="#a0a0a0" stroke-width="0.8" />
<line x1="1512" y1="184.2" x2="1512" y2="255.4" stroke="#a0a0a0" stroke-width="0.8" />
<line x1="1517" y1="189.2" x2="1512" y2="189.2" stroke="#a0a0a0" stroke-width="0.8" />
<line x1="1517" y1="249.4" x2="1512" y2="249.4" stroke="#a0a0a0" stroke-width="0.8" />
<line x1="289.5" y1="550.7" x2="289.5" y2="622.7" stroke="#a0a0a0" stroke-width="0.8" />
<line x1="295.5" y1="550.7" x2="295.5" y2="622.7" stroke="#a0a0a0" stroke-width="0.8" />
<line x1="289.5" y1="555.7" x2="295.5" y2="555.7" stroke="#a0a0a0" stroke-width="0.8" />
<line x1="289.5" y1="616.7" x2="295.5" y2="616.7" stroke="#a0a0a0" stroke-width="0.8" />
<line x1="1514.5" y1="550.7" x2="1514.5" y2="622.7" stroke="#a0a0a0" stroke-width="0.8" />
<line x1="1508.5" y1="550.7" x2="1508.5" y2="622.7" stroke="#a0a0a0" stroke-width="0.8" />
<line x1="1514.5" y1="555.7" x2="1508.5" y2="555.7" stroke="#a0a0a0" stroke-width="0.8" />
<line x1="1514.5" y1="616.7" x2="1508.5" y2="616.7" stroke="#a0a0a0" stroke-width="0.8" />
<line x1="287" y1="917.3" x2="287" y2="988.3" stroke="#a0a0a0" stroke-width="0.8" />
<line x1="292" y1="917.3" x2="292" y2="988.3" stroke="#a0a0a0" stroke-width="0.8" />
<line x1="287" y1="922.3" x2="292" y2="922.3" stroke="#a0a0a0" stroke-width="0.8" />
<line x1="287" y1="982.3" x2="292" y2="982.3" stroke="#a0a0a0" stroke-width="0.8" />
<line x1="1517" y1="917.3" x2="1517" y2="988.3" stroke="#a0a0a0" stroke-width="0.8" />
<line x1="1512" y1="917.3" x2="1512" y2="988.3" stroke="#a0a0a0" stroke-width="0.8" />
<line x1="1517" y1="922.3" x2="1512" y2="922.3" stroke="#a0a0a0" stroke-width="0.8" />
<line x1="1517" y1="982.3" x2="1512" y2="982.3" stroke="#a0a0a0" stroke-width="0.8" />
<line x1="286.5" y1="255.4" x2="286.5" y2="326.7" stroke="#b0b0b0" stroke-width="0.8" />
<line x1="291.5" y1="255.4" x2="291.5" y2="326.7" stroke="#b0b0b0" stroke-width="0.8" />
<line x1="1517.5" y1="255.4" x2="1517.5" y2="326.7" stroke="#b0b0b0" stroke-width="0.8" />
<line x1="1512.5" y1="255.4" x2="1512.5" y2="326.7" stroke="#b0b0b0" stroke-width="0.8" />
<line x1="286.5" y1="369.4" x2="286.5" y2="440.7" stroke="#b0b0b0" stroke-width="0.8" />
<line x1="291.5" y1="369.4" x2="291.5" y2="440.7" stroke="#b0b0b0" stroke-width="0.8" />
<line x1="1517.5" y1="369.4" x2="1517.5" y2="440.7" stroke="#b0b0b0" stroke-width="0.8" />
<line x1="1512.5" y1="369.4" x2="1512.5" y2="440.7" stroke="#b0b0b0" stroke-width="0.8" />
<line x1="286.5" y1="731.7" x2="286.5" y2="804" stroke="#b0b0b0" stroke-width="0.8" />
<line x1="291.5" y1="731.7" x2="291.5" y2="804" stroke="#b0b0b0" stroke-width="0.8" />
<line x1="1517.5" y1="731.7" x2="1517.5" y2="804" stroke="#b0b0b0" stroke-width="0.8" />
<line x1="1512.5" y1="731.7" x2="1512.5" y2="804" stroke="#b0b0b0" stroke-width="0.8" />
<line x1="286.5" y1="846.7" x2="286.5" y2="917.3" stroke="#b0b0b0" stroke-width="0.8" />
<line x1="291.5" y1="846.7" x2="291.5" y2="917.3" stroke="#b0b0b0" stroke-width="0.8" />
<line x1="1517.5" y1="846.7" x2="1517.5" y2="917.3" stroke="#b0b0b0" stroke-width="0.8" />
<line x1="1512.5" y1="846.7" x2="1512.5" y2="917.3" stroke="#b0b0b0" stroke-width="0.8" />
<line x1="272.6" y1="255.4" x2="308" y2="255.4" stroke="#a0a0a0" stroke-width="0.8" />
<line x1="1531.4" y1="255.4" x2="1496" y2="255.4" stroke="#a0a0a0" stroke-width="0.8" />
<line x1="272.6" y1="917.3" x2="308" y2="917.3" stroke="#a0a0a0" stroke-width="0.8" />
<line x1="1531.4" y1="917.3" x2="1496" y2="917.3" stroke="#a0a0a0" stroke-width="0.8" />
<rect x="268.3" y="81" width="7.1" height="7.5" fill="#fff" stroke="#777" stroke-width="0.9" />
<rect x="1528.6" y="81" width="7.1" height="7.5" fill="#fff" stroke="#777" stroke-width="0.9" />
<rect x="268.3" y="1084.5" width="7.1" height="7.5" fill="#fff" stroke="#777" stroke-width="0.9" />
<rect x="1528.6" y="1084.5" width="7.1" height="7.5" fill="#fff" stroke="#777" stroke-width="0.9" />
<line x1="1528.6" y1="181.9" x2="1528.6" y2="442.3" stroke="#333" stroke-width="1.3" />
<path d="M1528.6,181.9 L1637.8,181.9 L1637.8,442.3 L1528.6,442.3 L1528.6,438.3 L1633.2,438.3 L1633.2,185.9 L1528.6,185.9 Z" fill="url(#zE)" fill-rule="evenodd" stroke="none" stroke-width="1" />
<rect x="1528.6" y="181.9" width="109.2" height="260.4" fill="none" stroke="#555" stroke-width="1.3" />
<path d="M1528.6,185.9 L1633.2,185.9 L1633.2,438.3 L1528.6,438.3" fill="none" stroke="#888" stroke-width="0.9" />
<line x1="1528.6" y1="730" x2="1528.6" y2="991.7" stroke="#333" stroke-width="1.3" />
<path d="M1528.6,730 L1637.8,730 L1637.8,991.7 L1528.6,991.7 L1528.6,987.7 L1633.2,987.7 L1633.2,734 L1528.6,734 Z" fill="url(#zE)" fill-rule="evenodd" stroke="none" stroke-width="1" />
<rect x="1528.6" y="730" width="109.2" height="261.7" fill="none" stroke="#555" stroke-width="1.3" />
<path d="M1528.6,734 L1633.2,734 L1633.2,987.7 L1528.6,987.7" fill="none" stroke="#888" stroke-width="0.9" />
<line x1="1528.6" y1="131.25" x2="1880.8" y2="131.25" stroke="#222" stroke-width="1.3" />
<line x1="1528.6" y1="145.5" x2="1880.8" y2="145.5" stroke="#222" stroke-width="1.3" />
<line x1="1638.2" y1="255.4" x2="1880.8" y2="255.4" stroke="#222" stroke-width="1.3" />
<line x1="1556.3" y1="145.5" x2="1556.3" y2="181.9" stroke="#a8a8a8" stroke-width="0.9" />
<line x1="1592" y1="145.5" x2="1592" y2="181.9" stroke="#a8a8a8" stroke-width="0.9" />
<line x1="1627.8" y1="145.5" x2="1627.8" y2="181.9" stroke="#a8a8a8" stroke-width="0.9" />
<line x1="1698.5" y1="145.5" x2="1698.5" y2="255.4" stroke="#a8a8a8" stroke-width="0.9" />
<line x1="1769.5" y1="145.5" x2="1769.5" y2="255.4" stroke="#a8a8a8" stroke-width="0.9" />
<line x1="1805.5" y1="145.5" x2="1805.5" y2="255.4" stroke="#a8a8a8" stroke-width="0.9" />
<line x1="1841" y1="145.5" x2="1841" y2="255.4" stroke="#a8a8a8" stroke-width="0.9" />
<line x1="1876.7" y1="145.5" x2="1876.7" y2="255.4" stroke="#a8a8a8" stroke-width="0.9" />
<line x1="1496.5" y1="255.4" x2="1636" y2="255.4" stroke="#555" stroke-width="1" stroke-dasharray="1.5,9"/>
<circle cx="1573.3" cy="255.3" r="7.2" fill="#fff" stroke="#000" stroke-width="1.3"/>
<path d="M1573.3,255.3 L1580.5,255.3 A7.2,7.2 0 0 0 1573.3,248.1 Z" fill="#000"/>
<path d="M1573.3,255.3 L1566.1,255.3 A7.2,7.2 0 0 0 1573.3,262.5 Z" fill="#000"/>
<line x1="1558.3" y1="255.3" x2="1588.3" y2="255.3" stroke="#000" stroke-width="1.1" />
<line x1="1573.3" y1="240.3" x2="1573.3" y2="270.3" stroke="#000" stroke-width="1.1" />
<circle cx="1570" cy="917.3" r="7.2" fill="#fff" stroke="#000" stroke-width="1.3"/>
<path d="M1570,917.3 L1577.2,917.3 A7.2,7.2 0 0 0 1570,910.1 Z" fill="#000"/>
<path d="M1570,917.3 L1562.8,917.3 A7.2,7.2 0 0 0 1570,924.5 Z" fill="#000"/>
<line x1="1555" y1="917.3" x2="1585" y2="917.3" stroke="#000" stroke-width="1.1" />
<line x1="1570" y1="902.3" x2="1570" y2="932.3" stroke="#000" stroke-width="1.1" />
<line x1="1570" y1="430.2" x2="1630" y2="430.2" stroke="#111" stroke-width="1.1" />
<path d="M1614,415.6 L1630,430.2 L1614,444.5" fill="none" stroke="#111" stroke-width="1.1" />
<line x1="1570" y1="976" x2="1630" y2="976" stroke="#111" stroke-width="1.1" />
<path d="M1614,961.4 L1630,976 L1614,990.3" fill="none" stroke="#111" stroke-width="1.1" />
<path d="M288,259 A60,60 0 0 1 348,319" fill="none" stroke="#9a9a9a" stroke-width="0.9" />
<line x1="288" y1="319" x2="348.5" y2="319" stroke="#9a9a9a" stroke-width="0.9" />
<path d="M348,376.7 A60,60 0 0 1 288,436.7" fill="none" stroke="#9a9a9a" stroke-width="0.9" />
<line x1="288" y1="376.7" x2="348.5" y2="376.7" stroke="#9a9a9a" stroke-width="0.9" />
<path d="M288,735.7 A60,60 0 0 1 348,795.7" fill="none" stroke="#9a9a9a" stroke-width="0.9" />
<line x1="288" y1="795.7" x2="348.5" y2="795.7" stroke="#9a9a9a" stroke-width="0.9" />
<path d="M348,853.3 A60,60 0 0 1 288,913.3" fill="none" stroke="#9a9a9a" stroke-width="0.9" />
<line x1="288" y1="853.3" x2="348.5" y2="853.3" stroke="#9a9a9a" stroke-width="0.9" />
<path d="M589,333 A68,68 0 0 1 657,265" fill="none" stroke="#9a9a9a" stroke-width="0.9" />
<line x1="657" y1="265" x2="657" y2="333" stroke="#9a9a9a" stroke-width="0.9" />
<path d="M525.8,393 A59,59 0 0 1 466.8,334" fill="none" stroke="#9a9a9a" stroke-width="0.9" />
<line x1="525.8" y1="334" x2="525.8" y2="393" stroke="#9a9a9a" stroke-width="0.9" />
<path d="M735.3,418 A52,52 0 0 1 683.3,366" fill="none" stroke="#9a9a9a" stroke-width="0.9" />
<line x1="735.3" y1="366" x2="735.3" y2="418" stroke="#9a9a9a" stroke-width="0.9" />
<path d="M806,442 A66,66 0 0 1 740,376" fill="none" stroke="#9a9a9a" stroke-width="0.9" />
<line x1="740" y1="376" x2="806" y2="376" stroke="#9a9a9a" stroke-width="0.9" />
<path d="M740.7,620 A66,66 0 0 1 806.7,554" fill="none" stroke="#9a9a9a" stroke-width="0.9" />
<line x1="740.7" y1="620" x2="806.7" y2="620" stroke="#9a9a9a" stroke-width="0.9" />
<path d="M738,622.5 A54,54 0 0 1 684,676.5" fill="none" stroke="#9a9a9a" stroke-width="0.9" />
<line x1="684" y1="622.5" x2="684" y2="676.5" stroke="#9a9a9a" stroke-width="0.9" />
<path d="M525,672 A62,62 0 0 1 587,610" fill="none" stroke="#9a9a9a" stroke-width="0.9" />
<path d="M587,751 A62,62 0 0 1 525,689" fill="none" stroke="#9a9a9a" stroke-width="0.9" />
<path d="M724.7,701.7 A53,53 0 0 1 671.7,754.7" fill="none" stroke="#9a9a9a" stroke-width="0.9" />
<path d="M597,846 A67,67 0 0 1 664,779" fill="none" stroke="#9a9a9a" stroke-width="0.9" />
<line x1="664" y1="779" x2="664" y2="846" stroke="#9a9a9a" stroke-width="0.9" />
<line x1="588.3" y1="444.6" x2="791.6" y2="444.6" stroke="#b0b0b0" stroke-width="0.8" />
<line x1="588.3" y1="550.9" x2="791.6" y2="550.9" stroke="#b0b0b0" stroke-width="0.8" />
<line x1="677.75" y1="846.9" x2="677.75" y2="1081" stroke="#a8a8a8" stroke-width="0.8" />
<line x1="677.75" y1="906.9" x2="891.25" y2="906.9" stroke="#a8a8a8" stroke-width="0.8" />
<path d="M1456,319 A60,60 0 0 1 1516,259" fill="none" stroke="#9a9a9a" stroke-width="0.9" />
<line x1="1516" y1="319" x2="1455.5" y2="319" stroke="#9a9a9a" stroke-width="0.9" />
<path d="M1516,436.7 A60,60 0 0 1 1456,376.7" fill="none" stroke="#9a9a9a" stroke-width="0.9" />
<line x1="1516" y1="376.7" x2="1455.5" y2="376.7" stroke="#9a9a9a" stroke-width="0.9" />
<path d="M1456,795.7 A60,60 0 0 1 1516,735.7" fill="none" stroke="#9a9a9a" stroke-width="0.9" />
<line x1="1516" y1="795.7" x2="1455.5" y2="795.7" stroke="#9a9a9a" stroke-width="0.9" />
<path d="M1516,913.3 A60,60 0 0 1 1456,853.3" fill="none" stroke="#9a9a9a" stroke-width="0.9" />
<line x1="1516" y1="853.3" x2="1455.5" y2="853.3" stroke="#9a9a9a" stroke-width="0.9" />
<path d="M1147,265 A68,68 0 0 1 1215,333" fill="none" stroke="#9a9a9a" stroke-width="0.9" />
<line x1="1147" y1="265" x2="1147" y2="333" stroke="#9a9a9a" stroke-width="0.9" />
<path d="M1337.2,334 A59,59 0 0 1 1278.2,393" fill="none" stroke="#9a9a9a" stroke-width="0.9" />
<line x1="1278.2" y1="334" x2="1278.2" y2="393" stroke="#9a9a9a" stroke-width="0.9" />
<path d="M1120.7,366 A52,52 0 0 1 1068.7,418" fill="none" stroke="#9a9a9a" stroke-width="0.9" />
<line x1="1068.7" y1="366" x2="1068.7" y2="418" stroke="#9a9a9a" stroke-width="0.9" />
<path d="M1064,376 A66,66 0 0 1 998,442" fill="none" stroke="#9a9a9a" stroke-width="0.9" />
<line x1="1064" y1="376" x2="998" y2="376" stroke="#9a9a9a" stroke-width="0.9" />
<path d="M997.3,554 A66,66 0 0 1 1063.3,620" fill="none" stroke="#9a9a9a" stroke-width="0.9" />
<line x1="1063.3" y1="620" x2="997.3" y2="620" stroke="#9a9a9a" stroke-width="0.9" />
<path d="M1120,676.5 A54,54 0 0 1 1066,622.5" fill="none" stroke="#9a9a9a" stroke-width="0.9" />
<line x1="1120" y1="622.5" x2="1120" y2="676.5" stroke="#9a9a9a" stroke-width="0.9" />
<path d="M1217,610 A62,62 0 0 1 1279,672" fill="none" stroke="#9a9a9a" stroke-width="0.9" />
<path d="M1279,689 A62,62 0 0 1 1217,751" fill="none" stroke="#9a9a9a" stroke-width="0.9" />
<path d="M1132.3,754.7 A53,53 0 0 1 1079.3,701.7" fill="none" stroke="#9a9a9a" stroke-width="0.9" />
<path d="M1140,779 A67,67 0 0 1 1207,846" fill="none" stroke="#9a9a9a" stroke-width="0.9" />
<line x1="1140" y1="779" x2="1140" y2="846" stroke="#9a9a9a" stroke-width="0.9" />
<line x1="1215.7" y1="444.6" x2="1012.4" y2="444.6" stroke="#b0b0b0" stroke-width="0.8" />
<line x1="1215.7" y1="550.9" x2="1012.4" y2="550.9" stroke="#b0b0b0" stroke-width="0.8" />
<line x1="1126.25" y1="846.9" x2="1126.25" y2="1081" stroke="#a8a8a8" stroke-width="0.8" />
<line x1="1126.25" y1="906.9" x2="912.75" y2="906.9" stroke="#a8a8a8" stroke-width="0.8" />
<line x1="660" y1="91.9" x2="660" y2="227.4" stroke="#a0a0a0" stroke-width="0.9" />
<line x1="660" y1="134.6" x2="748.75" y2="134.6" stroke="#a0a0a0" stroke-width="0.9" />
<line x1="748.75" y1="134.6" x2="748.75" y2="227.4" stroke="#a0a0a0" stroke-width="0.9" />
<line x1="748.75" y1="184" x2="791.6" y2="184" stroke="#a0a0a0" stroke-width="0.9" />
<rect x="684.4" y="95.25" width="41.85" height="36" fill="none" stroke="#a0a0a0" stroke-width="0.9" />
<rect x="692.5" y="97.5" width="31.25" height="31" fill="none" stroke="#888" stroke-width="0.9" />
<circle cx="700.6" cy="105.6" r="6.2" fill="none" stroke="#888" stroke-width="0.9"/>
<circle cx="716.2" cy="105.6" r="5.2" fill="none" stroke="#888" stroke-width="0.9"/>
<circle cx="700.2" cy="120.6" r="5.2" fill="none" stroke="#888" stroke-width="0.9"/>
<circle cx="715.6" cy="120.6" r="5.8" fill="none" stroke="#888" stroke-width="0.9"/>
<circle cx="688.5" cy="109" r="1.7" fill="none" stroke="#888" stroke-width="0.8"/>
<circle cx="688.5" cy="114.4" r="1.7" fill="none" stroke="#888" stroke-width="0.8"/>
<circle cx="688.5" cy="119.75" r="1.7" fill="none" stroke="#888" stroke-width="0.8"/>
<circle cx="688.5" cy="125.25" r="1.7" fill="none" stroke="#888" stroke-width="0.8"/>
<rect x="752.25" y="109.4" width="36.25" height="71.2" fill="none" stroke="#a0a0a0" stroke-width="0.9" />
<rect x="754.5" y="111.6" width="31.7" height="66.8" fill="none" stroke="#c0c0c0" stroke-width="0.7" />
<line x1="756.25" y1="115.6" x2="756.25" y2="135" stroke="#888" stroke-width="0.8" />
<line x1="761.25" y1="115.6" x2="761.25" y2="135" stroke="#888" stroke-width="0.8" />
<line x1="766.25" y1="115.6" x2="766.25" y2="135" stroke="#888" stroke-width="0.8" />
<line x1="771.25" y1="115.6" x2="771.25" y2="135" stroke="#888" stroke-width="0.8" />
<line x1="775.6" y1="115.6" x2="775.6" y2="135" stroke="#888" stroke-width="0.8" />
<line x1="780.6" y1="115.6" x2="780.6" y2="135" stroke="#888" stroke-width="0.8" />
<rect x="756.25" y="139.4" width="21.25" height="11.85" fill="none" stroke="#888" stroke-width="0.9" />
<rect x="756.25" y="153.75" width="24.75" height="23.75" fill="none" stroke="#888" stroke-width="0.9" />
<line x1="766.25" y1="202.5" x2="774.4" y2="202.5" stroke="#777" stroke-width="0.9" />
<line x1="766.25" y1="208.75" x2="774.4" y2="208.75" stroke="#777" stroke-width="0.9" />
<line x1="770.3" y1="202.5" x2="770.3" y2="208.75" stroke="#777" stroke-width="0.9" />
<rect x="669.8" y="237" width="51.2" height="50.7" rx="4" fill="none" stroke="#a0a0a0" stroke-width="0.9"/>
<line x1="723.8" y1="234.9" x2="723.8" y2="291.5" stroke="#a0a0a0" stroke-width="0.8" />
<line x1="667.1" y1="291.5" x2="762.8" y2="291.5" stroke="#a0a0a0" stroke-width="0.8" />
<ellipse cx="682.6" cy="317.7" rx="10.2" ry="16" fill="none" stroke="#a0a0a0" stroke-width="0.9"/>
<path d="M667.1,298.3 L680,298.3 Q694,300 694,317.7 Q694,336 680,337.2 L667.1,337.2" fill="none" stroke="#a0a0a0" stroke-width="0.9" />
<ellipse cx="756" cy="323" rx="14.5" ry="12.4" fill="none" stroke="#a0a0a0" stroke-width="0.9"/>
<rect x="767" y="312.4" width="13.5" height="21.3" fill="none" stroke="#a0a0a0" stroke-width="0.9" />
<line x1="780.5" y1="291.5" x2="780.5" y2="366" stroke="#a0a0a0" stroke-width="0.8" />
<rect x="692.5" y="677.5" width="27.5" height="16" rx="7" fill="none" stroke="#a0a0a0" stroke-width="0.9"/>
<ellipse cx="706.2" cy="686" rx="10" ry="5.5" fill="none" stroke="#a0a0a0" stroke-width="0.9"/>
<line x1="781.7" y1="629.75" x2="781.7" y2="693.5" stroke="#a0a0a0" stroke-width="0.8" />
<path d="M781.7,645.8 L762,645.8 Q741,646 741,657 Q741,668.3 762,668.3 L781.7,668.3" fill="none" stroke="#a0a0a0" stroke-width="0.9" />
<rect x="800" y="654" width="45" height="42.25" fill="none" stroke="#a0a0a0" stroke-width="0.9" />
<rect x="845" y="654" width="45" height="42.25" fill="none" stroke="#a0a0a0" stroke-width="0.9" />
<rect x="802" y="656" width="41" height="38" fill="none" stroke="#c8c8c8" stroke-width="0.7" />
<rect x="847" y="656" width="41" height="38" fill="none" stroke="#c8c8c8" stroke-width="0.7" />
<line x1="798.75" y1="729.7" x2="891.25" y2="729.7" stroke="#a0a0a0" stroke-width="0.8" />
<rect x="834.7" y="732.5" width="56.3" height="53.5" rx="3" fill="none" stroke="#a0a0a0" stroke-width="0.9"/>
<rect x="838.4" y="735.5" width="48.8" height="46.7" rx="5" fill="none" stroke="#a0a0a0" stroke-width="0.8"/>
<ellipse cx="806" cy="752" rx="12.7" ry="16" fill="none" stroke="#a0a0a0" stroke-width="0.9"/>
<rect x="795.3" y="764.4" width="20.7" height="10.3" fill="none" stroke="#a0a0a0" stroke-width="0.9" />
<line x1="777.5" y1="774.7" x2="834.7" y2="774.7" stroke="#a0a0a0" stroke-width="0.8" />
<rect x="738" y="757" width="39.5" height="29" rx="9" fill="none" stroke="#a0a0a0" stroke-width="0.9"/>
<ellipse cx="757.8" cy="771" rx="16" ry="9" fill="none" stroke="#a0a0a0" stroke-width="0.9"/>
<rect x="719" y="796" width="41.6" height="36.8" fill="none" stroke="#a0a0a0" stroke-width="0.9" />
<rect x="727" y="798" width="31" height="32.5" fill="none" stroke="#888" stroke-width="0.9" />
<circle cx="735.5" cy="807.5" r="6.2" fill="none" stroke="#888" stroke-width="0.9"/>
<circle cx="750.5" cy="807.5" r="5.2" fill="none" stroke="#888" stroke-width="0.9"/>
<circle cx="734.5" cy="822" r="5.2" fill="none" stroke="#888" stroke-width="0.9"/>
<circle cx="749.5" cy="822" r="5.8" fill="none" stroke="#888" stroke-width="0.9"/>
<circle cx="722.8" cy="809" r="1.7" fill="none" stroke="#888" stroke-width="0.8"/>
<circle cx="722.8" cy="814.5" r="1.7" fill="none" stroke="#888" stroke-width="0.8"/>
<circle cx="722.8" cy="820" r="1.7" fill="none" stroke="#888" stroke-width="0.8"/>
<circle cx="722.8" cy="825.5" r="1.7" fill="none" stroke="#888" stroke-width="0.8"/>
<rect x="816.5" y="796" width="71.25" height="36.8" fill="none" stroke="#a0a0a0" stroke-width="0.9" />
<rect x="820" y="802" width="23.5" height="27.5" fill="none" stroke="#888" stroke-width="0.9" />
<rect x="846" y="806.6" width="12" height="22.4" fill="none" stroke="#888" stroke-width="0.9" />
<line x1="863.75" y1="804.7" x2="881.6" y2="804.7" stroke="#888" stroke-width="0.8" />
<line x1="863.75" y1="809.4" x2="881.6" y2="809.4" stroke="#888" stroke-width="0.8" />
<line x1="863.75" y1="814" x2="881.6" y2="814" stroke="#888" stroke-width="0.8" />
<line x1="863.75" y1="818.75" x2="881.6" y2="818.75" stroke="#888" stroke-width="0.8" />
<line x1="863.75" y1="823.4" x2="881.6" y2="823.4" stroke="#888" stroke-width="0.8" />
<line x1="863.75" y1="828.1" x2="881.6" y2="828.1" stroke="#888" stroke-width="0.8" />
<line x1="677.75" y1="835.6" x2="848.75" y2="835.6" stroke="#a0a0a0" stroke-width="0.9" />
<line x1="848.75" y1="835.6" x2="848.75" y2="906.9" stroke="#a0a0a0" stroke-width="0.9" />
<line x1="848.75" y1="864" x2="891.25" y2="864" stroke="#a0a0a0" stroke-width="0.9" />
<line x1="865" y1="882.5" x2="873" y2="882.5" stroke="#777" stroke-width="0.9" />
<line x1="865" y1="889" x2="873" y2="889" stroke="#777" stroke-width="0.9" />
<line x1="869" y1="882.5" x2="869" y2="889" stroke="#777" stroke-width="0.9" />
<line x1="1144" y1="91.9" x2="1144" y2="227.4" stroke="#a0a0a0" stroke-width="0.9" />
<line x1="1144" y1="134.6" x2="1055.25" y2="134.6" stroke="#a0a0a0" stroke-width="0.9" />
<line x1="1055.25" y1="134.6" x2="1055.25" y2="227.4" stroke="#a0a0a0" stroke-width="0.9" />
<line x1="1055.25" y1="184" x2="1012.4" y2="184" stroke="#a0a0a0" stroke-width="0.9" />
<rect x="1077.75" y="95.25" width="41.85" height="36" fill="none" stroke="#a0a0a0" stroke-width="0.9" />
<rect x="1080.25" y="97.5" width="31.25" height="31" fill="none" stroke="#888" stroke-width="0.9" />
<circle cx="1103.4" cy="105.6" r="6.2" fill="none" stroke="#888" stroke-width="0.9"/>
<circle cx="1087.8" cy="105.6" r="5.2" fill="none" stroke="#888" stroke-width="0.9"/>
<circle cx="1103.8" cy="120.6" r="5.2" fill="none" stroke="#888" stroke-width="0.9"/>
<circle cx="1088.4" cy="120.6" r="5.8" fill="none" stroke="#888" stroke-width="0.9"/>
<circle cx="1115.5" cy="109" r="1.7" fill="none" stroke="#888" stroke-width="0.8"/>
<circle cx="1115.5" cy="114.4" r="1.7" fill="none" stroke="#888" stroke-width="0.8"/>
<circle cx="1115.5" cy="119.75" r="1.7" fill="none" stroke="#888" stroke-width="0.8"/>
<circle cx="1115.5" cy="125.25" r="1.7" fill="none" stroke="#888" stroke-width="0.8"/>
<rect x="1015.5" y="109.4" width="36.25" height="71.2" fill="none" stroke="#a0a0a0" stroke-width="0.9" />
<rect x="1017.8" y="111.6" width="31.7" height="66.8" fill="none" stroke="#c0c0c0" stroke-width="0.7" />
<line x1="1047.75" y1="115.6" x2="1047.75" y2="135" stroke="#888" stroke-width="0.8" />
<line x1="1042.75" y1="115.6" x2="1042.75" y2="135" stroke="#888" stroke-width="0.8" />
<line x1="1037.75" y1="115.6" x2="1037.75" y2="135" stroke="#888" stroke-width="0.8" />
<line x1="1032.75" y1="115.6" x2="1032.75" y2="135" stroke="#888" stroke-width="0.8" />
<line x1="1028.4" y1="115.6" x2="1028.4" y2="135" stroke="#888" stroke-width="0.8" />
<line x1="1023.4" y1="115.6" x2="1023.4" y2="135" stroke="#888" stroke-width="0.8" />
<rect x="1026.5" y="139.4" width="21.25" height="11.85" fill="none" stroke="#888" stroke-width="0.9" />
<rect x="1023" y="153.75" width="24.75" height="23.75" fill="none" stroke="#888" stroke-width="0.9" />
<line x1="1037.75" y1="202.5" x2="1029.6" y2="202.5" stroke="#777" stroke-width="0.9" />
<line x1="1037.75" y1="208.75" x2="1029.6" y2="208.75" stroke="#777" stroke-width="0.9" />
<line x1="1033.7" y1="202.5" x2="1033.7" y2="208.75" stroke="#777" stroke-width="0.9" />
<rect x="1083" y="237" width="51.2" height="50.7" rx="4" fill="none" stroke="#a0a0a0" stroke-width="0.9"/>
<line x1="1080.2" y1="234.9" x2="1080.2" y2="291.5" stroke="#a0a0a0" stroke-width="0.8" />
<line x1="1136.9" y1="291.5" x2="1041.2" y2="291.5" stroke="#a0a0a0" stroke-width="0.8" />
<ellipse cx="1121.4" cy="317.7" rx="10.2" ry="16" fill="none" stroke="#a0a0a0" stroke-width="0.9"/>
<path d="M1136.9,298.3 L1124,298.3 Q1110,300 1110,317.7 Q1110,336 1124,337.2 L1136.9,337.2" fill="none" stroke="#a0a0a0" stroke-width="0.9" />
<ellipse cx="1048" cy="323" rx="14.5" ry="12.4" fill="none" stroke="#a0a0a0" stroke-width="0.9"/>
<rect x="1023.5" y="312.4" width="13.5" height="21.3" fill="none" stroke="#a0a0a0" stroke-width="0.9" />
<line x1="1023.5" y1="291.5" x2="1023.5" y2="366" stroke="#a0a0a0" stroke-width="0.8" />
<rect x="1084" y="677.5" width="27.5" height="16" rx="7" fill="none" stroke="#a0a0a0" stroke-width="0.9"/>
<ellipse cx="1097.8" cy="686" rx="10" ry="5.5" fill="none" stroke="#a0a0a0" stroke-width="0.9"/>
<line x1="1022.3" y1="629.75" x2="1022.3" y2="693.5" stroke="#a0a0a0" stroke-width="0.8" />
<path d="M1022.3,645.8 L1042,645.8 Q1063,646 1063,657 Q1063,668.3 1042,668.3 L1022.3,668.3" fill="none" stroke="#a0a0a0" stroke-width="0.9" />
<rect x="959" y="654" width="45" height="42.25" fill="none" stroke="#a0a0a0" stroke-width="0.9" />
<rect x="914" y="654" width="45" height="42.25" fill="none" stroke="#a0a0a0" stroke-width="0.9" />
<rect x="961" y="656" width="41" height="38" fill="none" stroke="#c8c8c8" stroke-width="0.7" />
<rect x="916" y="656" width="41" height="38" fill="none" stroke="#c8c8c8" stroke-width="0.7" />
<line x1="1005.25" y1="729.7" x2="912.75" y2="729.7" stroke="#a0a0a0" stroke-width="0.8" />
<rect x="913" y="732.5" width="56.3" height="53.5" rx="3" fill="none" stroke="#a0a0a0" stroke-width="0.9"/>
<rect x="916.8" y="735.5" width="48.8" height="46.7" rx="5" fill="none" stroke="#a0a0a0" stroke-width="0.8"/>
<ellipse cx="998" cy="752" rx="12.7" ry="16" fill="none" stroke="#a0a0a0" stroke-width="0.9"/>
<rect x="988" y="764.4" width="20.7" height="10.3" fill="none" stroke="#a0a0a0" stroke-width="0.9" />
<line x1="1026.5" y1="774.7" x2="969.3" y2="774.7" stroke="#a0a0a0" stroke-width="0.8" />
<rect x="1026.5" y="757" width="39.5" height="29" rx="9" fill="none" stroke="#a0a0a0" stroke-width="0.9"/>
<ellipse cx="1046.2" cy="771" rx="16" ry="9" fill="none" stroke="#a0a0a0" stroke-width="0.9"/>
<rect x="1043.4" y="796" width="41.6" height="36.8" fill="none" stroke="#a0a0a0" stroke-width="0.9" />
<rect x="1046" y="798" width="31" height="32.5" fill="none" stroke="#888" stroke-width="0.9" />
<circle cx="1068.5" cy="807.5" r="6.2" fill="none" stroke="#888" stroke-width="0.9"/>
<circle cx="1053.5" cy="807.5" r="5.2" fill="none" stroke="#888" stroke-width="0.9"/>
<circle cx="1069.5" cy="822" r="5.2" fill="none" stroke="#888" stroke-width="0.9"/>
<circle cx="1054.5" cy="822" r="5.8" fill="none" stroke="#888" stroke-width="0.9"/>
<circle cx="1081.2" cy="809" r="1.7" fill="none" stroke="#888" stroke-width="0.8"/>
<circle cx="1081.2" cy="814.5" r="1.7" fill="none" stroke="#888" stroke-width="0.8"/>
<circle cx="1081.2" cy="820" r="1.7" fill="none" stroke="#888" stroke-width="0.8"/>
<circle cx="1081.2" cy="825.5" r="1.7" fill="none" stroke="#888" stroke-width="0.8"/>
<rect x="916.25" y="796" width="71.25" height="36.8" fill="none" stroke="#a0a0a0" stroke-width="0.9" />
<rect x="960.5" y="802" width="23.5" height="27.5" fill="none" stroke="#888" stroke-width="0.9" />
<rect x="946" y="806.6" width="12" height="22.4" fill="none" stroke="#888" stroke-width="0.9" />
<line x1="940.25" y1="804.7" x2="922.4" y2="804.7" stroke="#888" stroke-width="0.8" />
<line x1="940.25" y1="809.4" x2="922.4" y2="809.4" stroke="#888" stroke-width="0.8" />
<line x1="940.25" y1="814" x2="922.4" y2="814" stroke="#888" stroke-width="0.8" />
<line x1="940.25" y1="818.75" x2="922.4" y2="818.75" stroke="#888" stroke-width="0.8" />
<line x1="940.25" y1="823.4" x2="922.4" y2="823.4" stroke="#888" stroke-width="0.8" />
<line x1="940.25" y1="828.1" x2="922.4" y2="828.1" stroke="#888" stroke-width="0.8" />
<line x1="1126.25" y1="835.6" x2="955.25" y2="835.6" stroke="#a0a0a0" stroke-width="0.9" />
<line x1="955.25" y1="835.6" x2="955.25" y2="906.9" stroke="#a0a0a0" stroke-width="0.9" />
<line x1="955.25" y1="864" x2="912.75" y2="864" stroke="#a0a0a0" stroke-width="0.9" />
<line x1="939" y1="882.5" x2="931" y2="882.5" stroke="#777" stroke-width="0.9" />
<line x1="939" y1="889" x2="931" y2="889" stroke="#777" stroke-width="0.9" />
<line x1="935" y1="882.5" x2="935" y2="889" stroke="#777" stroke-width="0.9" />
<line x1="856" y1="220.1" x2="898.6" y2="220.1" stroke="#1a1a1a" stroke-width="1.3" />
<text x="895.5" y="217.1" font-size="11.5" text-anchor="end" fill="#000" >7</text>
<line x1="812.8" y1="241" x2="898.6" y2="241" stroke="#1a1a1a" stroke-width="1.3" />
<text x="895.5" y="238" font-size="11.5" text-anchor="end" fill="#000" >6</text>
<line x1="812.8" y1="262.3" x2="898.6" y2="262.3" stroke="#1a1a1a" stroke-width="1.3" />
<text x="895.5" y="259.3" font-size="11.5" text-anchor="end" fill="#000" >5</text>
<line x1="812.8" y1="283.6" x2="898.6" y2="283.6" stroke="#1a1a1a" stroke-width="1.3" />
<text x="895.5" y="280.6" font-size="11.5" text-anchor="end" fill="#000" >4</text>
<line x1="812.8" y1="305.4" x2="898.6" y2="305.4" stroke="#1a1a1a" stroke-width="1.3" />
<text x="895.5" y="302.4" font-size="11.5" text-anchor="end" fill="#000" >3</text>
<line x1="812.8" y1="326.6" x2="898.6" y2="326.6" stroke="#1a1a1a" stroke-width="1.3" />
<text x="895.5" y="323.6" font-size="11.5" text-anchor="end" fill="#000" >2</text>
<line x1="812.8" y1="347.9" x2="898.6" y2="347.9" stroke="#1a1a1a" stroke-width="1.3" />
<text x="895.5" y="344.9" font-size="11.5" text-anchor="end" fill="#000" >1</text>
<line x1="898.6" y1="198.7" x2="898.6" y2="347.9" stroke="#1a1a1a" stroke-width="1.3" />
<line x1="812.8" y1="177.4" x2="990.7" y2="177.4" stroke="#1a1a1a" stroke-width="1.3" stroke-dasharray="7,4.5"/>
<line x1="812.8" y1="198.4" x2="990.7" y2="198.4" stroke="#1a1a1a" stroke-width="1.3" stroke-dasharray="7,4.5"/>
<line x1="812.8" y1="220.1" x2="856" y2="220.1" stroke="#1a1a1a" stroke-width="1.3" stroke-dasharray="7,4.5"/>
<line x1="905.6" y1="220.1" x2="990.7" y2="220.1" stroke="#1a1a1a" stroke-width="1.3" stroke-dasharray="7,4.5"/>
<line x1="905.6" y1="241" x2="990.7" y2="241" stroke="#1a1a1a" stroke-width="1.3" stroke-dasharray="7,4.5"/>
<line x1="905.6" y1="262.3" x2="990.7" y2="262.3" stroke="#1a1a1a" stroke-width="1.3" stroke-dasharray="7,4.5"/>
<line x1="905.6" y1="283.6" x2="990.7" y2="283.6" stroke="#1a1a1a" stroke-width="1.3" stroke-dasharray="7,4.5"/>
<line x1="905.6" y1="305.4" x2="990.7" y2="305.4" stroke="#1a1a1a" stroke-width="1.3" stroke-dasharray="7,4.5"/>
<line x1="905.6" y1="326.6" x2="990.7" y2="326.6" stroke="#1a1a1a" stroke-width="1.3" stroke-dasharray="7,4.5"/>
<line x1="905.6" y1="177.4" x2="905.6" y2="347.9" stroke="#1a1a1a" stroke-width="1.3" stroke-dasharray="7,4.5"/>
<line x1="898.6" y1="177.4" x2="898.6" y2="198.7" stroke="#1a1a1a" stroke-width="1.3" stroke-dasharray="7,4.5"/>
<line x1="813" y1="232.8" x2="898.6" y2="190.6" stroke="#111" stroke-width="1.4" />
<line x1="813" y1="239.8" x2="898.6" y2="198.7" stroke="#111" stroke-width="1.4" />
<line x1="855.8" y1="134.6" x2="855.8" y2="347.9" stroke="#a8a8a8" stroke-width="0.8" />
<line x1="948.4" y1="134.6" x2="948.4" y2="347.9" stroke="#a8a8a8" stroke-width="0.8" />
<line x1="855.8" y1="134.6" x2="948.4" y2="134.6" stroke="#a8a8a8" stroke-width="0.8" />
<line x1="856.6" y1="220.4" x2="897.3" y2="240.7" stroke="#a8a8a8" stroke-width="0.8" />
<line x1="812.8" y1="347.9" x2="898.6" y2="347.9" stroke="#1a1a1a" stroke-width="1.3" />
<line x1="905.6" y1="347.9" x2="990.7" y2="347.9" stroke="#333" stroke-width="1.1" stroke-dasharray="7,4.5"/>
<path d="M906,328 L948.3,348 L990,328" fill="none" stroke="#a8a8a8" stroke-width="0.8" />
<circle cx="856" cy="348" r="3" fill="#fff" stroke="#a8a8a8" stroke-width="0.8"/>
<line x1="982.5" y1="92" x2="982.5" y2="347.9" stroke="#c0c0c0" stroke-width="0.9" />
<line x1="976.5" y1="92" x2="988.5" y2="92" stroke="#a0a0a0" stroke-width="0.9" />
<line x1="979" y1="95.5" x2="986" y2="88.5" stroke="#a0a0a0" stroke-width="0.9" />
<line x1="976.5" y1="177.4" x2="988.5" y2="177.4" stroke="#a0a0a0" stroke-width="0.9" />
<line x1="979" y1="180.9" x2="986" y2="173.9" stroke="#a0a0a0" stroke-width="0.9" />
<line x1="976.5" y1="347.9" x2="988.5" y2="347.9" stroke="#a0a0a0" stroke-width="0.9" />
<line x1="979" y1="351.4" x2="986" y2="344.4" stroke="#a0a0a0" stroke-width="0.9" />
<text transform="translate(980.4,134) rotate(-90)" font-size="20" text-anchor="middle" fill="#000">1,20</text>
<text transform="translate(980.4,262.8) rotate(-90)" font-size="20" text-anchor="middle" fill="#000">2,40</text>
<text transform="translate(854.5,262.9) rotate(-90)" font-size="11" text-anchor="middle">18M x 17</text>
<text transform="translate(864.8,261.5) rotate(-90)" font-size="11" text-anchor="middle">17SZ x 30</text>
<line x1="811.7" y1="386.7" x2="991.7" y2="386.7" stroke="#b8b8b8" stroke-width="0.9" />
<line x1="811.7" y1="378.7" x2="811.7" y2="394.7" stroke="#a0a0a0" stroke-width="0.9" />
<line x1="807.7" y1="390.7" x2="815.7" y2="382.7" stroke="#a0a0a0" stroke-width="0.9" />
<line x1="898.3" y1="378.7" x2="898.3" y2="394.7" stroke="#a0a0a0" stroke-width="0.9" />
<line x1="894.3" y1="390.7" x2="902.3" y2="382.7" stroke="#a0a0a0" stroke-width="0.9" />
<line x1="905.7" y1="378.7" x2="905.7" y2="394.7" stroke="#a0a0a0" stroke-width="0.9" />
<line x1="901.7" y1="390.7" x2="909.7" y2="382.7" stroke="#a0a0a0" stroke-width="0.9" />
<line x1="991.7" y1="378.7" x2="991.7" y2="394.7" stroke="#a0a0a0" stroke-width="0.9" />
<line x1="987.7" y1="390.7" x2="995.7" y2="382.7" stroke="#a0a0a0" stroke-width="0.9" />
<text x="845.2" y="383.4" font-size="20" text-anchor="middle" fill="#000" >1,20</text>
<text x="886.5" y="383.4" font-size="20" text-anchor="middle" fill="#000" >10</text>
<text x="948.3" y="383.4" font-size="20" text-anchor="middle" fill="#000" >1,20</text>
<path d="M791.6,91.9 L812.8,91.9 L812.8,373 L738,373 L738,366 L791.6,366 L791.6,291.5 L762.8,291.5 L762.8,234.9 L667.1,234.9 L667.1,366 L684.5,366 L684.5,373 L659.5,373 L659.5,227.4 L791.6,227.4 Z M770.4,234.9 L791.6,234.9 L791.6,284 L770.4,284 Z" fill="#fff" fill-rule="evenodd" stroke="none" stroke-width="1" />
<path d="M791.6,91.9 L812.8,91.9 L812.8,373 L738,373 L738,366 L791.6,366 L791.6,291.5 L762.8,291.5 L762.8,234.9 L667.1,234.9 L667.1,366 L684.5,366 L684.5,373 L659.5,373 L659.5,227.4 L791.6,227.4 Z M770.4,234.9 L791.6,234.9 L791.6,284 L770.4,284 Z" fill="url(#hD)" fill-rule="evenodd" stroke="#111" stroke-width="1.2" />
<path d="M307.5,487 L791.6,487 L791.6,444.1 L812.8,444.1 L812.8,550.9 L791.6,550.9 L791.6,508.4 L307.5,508.4 Z" fill="#fff" fill-rule="evenodd" stroke="none" stroke-width="1" />
<path d="M307.5,487 L791.6,487 L791.6,444.1 L812.8,444.1 L812.8,550.9 L791.6,550.9 L791.6,508.4 L307.5,508.4 Z" fill="url(#hD)" fill-rule="evenodd" stroke="#111" stroke-width="1.2" />
<path d="M307.5,326.7 L465.2,326.7 L465.2,334 L307.5,334 Z" fill="#fff" fill-rule="evenodd" stroke="none" stroke-width="1" />
<path d="M307.5,326.7 L465.2,326.7 L465.2,334 L307.5,334 Z" fill="url(#hD)" fill-rule="evenodd" stroke="#111" stroke-width="1.2" />
<path d="M527.7,326.7 L588.75,326.7 L588.75,607.8 L581.6,607.8 L581.6,334 L527.7,334 Z" fill="#fff" fill-rule="evenodd" stroke="none" stroke-width="1" />
<path d="M527.7,326.7 L588.75,326.7 L588.75,607.8 L581.6,607.8 L581.6,334 L527.7,334 Z" fill="url(#hD)" fill-rule="evenodd" stroke="#111" stroke-width="1.2" />
<path d="M307.5,676.3 L581.6,676.3 L581.6,672.5 L588.3,672.5 L588.3,689.4 L581.6,689.4 L581.6,682.8 L307.5,682.8 Z" fill="#fff" fill-rule="evenodd" stroke="none" stroke-width="1" />
<path d="M307.5,676.3 L581.6,676.3 L581.6,672.5 L588.3,672.5 L588.3,689.4 L581.6,689.4 L581.6,682.8 L307.5,682.8 Z" fill="url(#hD)" fill-rule="evenodd" stroke="#111" stroke-width="1.2" />
<path d="M581.6,750.3 L588.3,750.3 L588.3,839.4 L595.6,839.4 L595.6,846.5 L307.5,846.5 L307.5,839.4 L581.6,839.4 Z" fill="#fff" fill-rule="evenodd" stroke="none" stroke-width="1" />
<path d="M581.6,750.3 L588.3,750.3 L588.3,839.4 L595.6,839.4 L595.6,846.5 L307.5,846.5 L307.5,839.4 L581.6,839.4 Z" fill="url(#hD)" fill-rule="evenodd" stroke="#111" stroke-width="1.2" />
<path d="M670.6,754 L677.75,754 L677.75,757.25 L734.75,757.25 L734.75,786 L891.25,786 L891.25,793.4 L677.75,793.4 L677.75,846.9 L670.6,846.9 Z M677.75,764.4 L727.8,764.4 L727.8,786 L677.75,786 Z" fill="#fff" fill-rule="evenodd" stroke="none" stroke-width="1" />
<path d="M670.6,754 L677.75,754 L677.75,757.25 L734.75,757.25 L734.75,786 L891.25,786 L891.25,793.4 L677.75,793.4 L677.75,846.9 L670.6,846.9 Z M677.75,764.4 L727.8,764.4 L727.8,786 L677.75,786 Z" fill="url(#hD)" fill-rule="evenodd" stroke="#111" stroke-width="1.2" />
<path d="M1012.4,91.9 L991.2,91.9 L991.2,373 L1066,373 L1066,366 L1012.4,366 L1012.4,291.5 L1041.2,291.5 L1041.2,234.9 L1136.9,234.9 L1136.9,366 L1119.5,366 L1119.5,373 L1144.5,373 L1144.5,227.4 L1012.4,227.4 Z M1033.6,234.9 L1012.4,234.9 L1012.4,284 L1033.6,284 Z" fill="#fff" fill-rule="evenodd" stroke="none" stroke-width="1" />
<path d="M1012.4,91.9 L991.2,91.9 L991.2,373 L1066,373 L1066,366 L1012.4,366 L1012.4,291.5 L1041.2,291.5 L1041.2,234.9 L1136.9,234.9 L1136.9,366 L1119.5,366 L1119.5,373 L1144.5,373 L1144.5,227.4 L1012.4,227.4 Z M1033.6,234.9 L1012.4,234.9 L1012.4,284 L1033.6,284 Z" fill="url(#hD)" fill-rule="evenodd" stroke="#111" stroke-width="1.2" />
<path d="M1496.5,487 L1012.4,487 L1012.4,444.1 L991.2,444.1 L991.2,550.9 L1012.4,550.9 L1012.4,508.4 L1496.5,508.4 Z" fill="#fff" fill-rule="evenodd" stroke="none" stroke-width="1" />
<path d="M1496.5,487 L1012.4,487 L1012.4,444.1 L991.2,444.1 L991.2,550.9 L1012.4,550.9 L1012.4,508.4 L1496.5,508.4 Z" fill="url(#hD)" fill-rule="evenodd" stroke="#111" stroke-width="1.2" />
<path d="M1496.5,326.7 L1338.8,326.7 L1338.8,334 L1496.5,334 Z" fill="#fff" fill-rule="evenodd" stroke="none" stroke-width="1" />
<path d="M1496.5,326.7 L1338.8,326.7 L1338.8,334 L1496.5,334 Z" fill="url(#hD)" fill-rule="evenodd" stroke="#111" stroke-width="1.2" />
<path d="M1276.3,326.7 L1215.25,326.7 L1215.25,607.8 L1222.4,607.8 L1222.4,334 L1276.3,334 Z" fill="#fff" fill-rule="evenodd" stroke="none" stroke-width="1" />
<path d="M1276.3,326.7 L1215.25,326.7 L1215.25,607.8 L1222.4,607.8 L1222.4,334 L1276.3,334 Z" fill="url(#hD)" fill-rule="evenodd" stroke="#111" stroke-width="1.2" />
<path d="M1496.5,676.3 L1222.4,676.3 L1222.4,672.5 L1215.7,672.5 L1215.7,689.4 L1222.4,689.4 L1222.4,682.8 L1496.5,682.8 Z" fill="#fff" fill-rule="evenodd" stroke="none" stroke-width="1" />
<path d="M1496.5,676.3 L1222.4,676.3 L1222.4,672.5 L1215.7,672.5 L1215.7,689.4 L1222.4,689.4 L1222.4,682.8 L1496.5,682.8 Z" fill="url(#hD)" fill-rule="evenodd" stroke="#111" stroke-width="1.2" />
<path d="M1222.4,750.3 L1215.7,750.3 L1215.7,839.4 L1208.4,839.4 L1208.4,846.5 L1496.5,846.5 L1496.5,839.4 L1222.4,839.4 Z" fill="#fff" fill-rule="evenodd" stroke="none" stroke-width="1" />
<path d="M1222.4,750.3 L1215.7,750.3 L1215.7,839.4 L1208.4,839.4 L1208.4,846.5 L1496.5,846.5 L1496.5,839.4 L1222.4,839.4 Z" fill="url(#hD)" fill-rule="evenodd" stroke="#111" stroke-width="1.2" />
<path d="M1133.4,754 L1126.25,754 L1126.25,757.25 L1069.25,757.25 L1069.25,786 L912.75,786 L912.75,793.4 L1126.25,793.4 L1126.25,846.9 L1133.4,846.9 Z M1126.25,764.4 L1076.2,764.4 L1076.2,786 L1126.25,786 Z" fill="#fff" fill-rule="evenodd" stroke="none" stroke-width="1" />
<path d="M1133.4,754 L1126.25,754 L1126.25,757.25 L1069.25,757.25 L1069.25,786 L912.75,786 L912.75,793.4 L1126.25,793.4 L1126.25,846.9 L1133.4,846.9 Z M1126.25,764.4 L1076.2,764.4 L1076.2,786 L1126.25,786 Z" fill="url(#hD)" fill-rule="evenodd" stroke="#111" stroke-width="1.2" />
<path d="M670.3,622.3 L681,622.3 L681,629.75 L678.1,629.75 L678.1,693.5 L791.9,693.5 L791.9,629.75 L734.4,629.75 L734.4,622.3 L813.1,622.3 L813.1,629.4 L990.9,629.4 L990.9,622.3 L1069.6,622.3 L1069.6,629.75 L1012.1,629.75 L1012.1,693.5 L1125.9,693.5 L1125.9,629.75 L1123,629.75 L1123,622.3 L1133.7,622.3 L1133.7,700.3 L1005.25,700.3 L1005.25,650.6 L912.75,650.6 L912.75,1081 L891.25,1081 L891.25,650.6 L798.75,650.6 L798.75,700.3 L670.3,700.3 Z" fill="#fff" fill-rule="evenodd" stroke="none" stroke-width="1" />
<path d="M670.3,622.3 L681,622.3 L681,629.75 L678.1,629.75 L678.1,693.5 L791.9,693.5 L791.9,629.75 L734.4,629.75 L734.4,622.3 L813.1,622.3 L813.1,629.4 L990.9,629.4 L990.9,622.3 L1069.6,622.3 L1069.6,629.75 L1012.1,629.75 L1012.1,693.5 L1125.9,693.5 L1125.9,629.75 L1123,629.75 L1123,622.3 L1133.7,622.3 L1133.7,700.3 L1005.25,700.3 L1005.25,650.6 L912.75,650.6 L912.75,1081 L891.25,1081 L891.25,650.6 L798.75,650.6 L798.75,700.3 L670.3,700.3 Z" fill="url(#hD)" fill-rule="evenodd" stroke="#111" stroke-width="1.2" />
<path d="M771.6,234.9 L790.6,234.9 L790.6,283.5 L785.8,240.7 Z" fill="#666" fill-rule="evenodd" stroke="#111" stroke-width="1" />
<path d="M1013.6,234.9 L1032.6,234.9 L1032.6,283.5 L1027.8,240.7 Z" fill="#666" fill-rule="evenodd" stroke="#111" stroke-width="1" />
<path d="M678.5,785.5 L727.4,785.5 L727.4,765.3 L721.3,779.75 Z" fill="#666" fill-rule="evenodd" stroke="#111" stroke-width="1" />
<path d="M1076.95,785.5 L1125.85,785.5 L1125.85,765.3 L1119.75,779.75 Z" fill="#666" fill-rule="evenodd" stroke="#111" stroke-width="1" />
<rect x="289.4" y="73.7" width="18.1" height="18.2" fill="#fff" stroke="none" stroke-width="1" />
<rect x="289.4" y="73.7" width="18.1" height="18.2" fill="url(#hX)" stroke="#111" stroke-width="1.3" />
<rect x="1496.5" y="73.7" width="18.1" height="18.2" fill="#fff" stroke="none" stroke-width="1" />
<rect x="1496.5" y="73.7" width="18.1" height="18.2" fill="url(#hX)" stroke="#111" stroke-width="1.3" />
<rect x="567.4" y="73.7" width="21.35" height="18.2" fill="#fff" stroke="none" stroke-width="1" />
<rect x="567.4" y="73.7" width="21.35" height="18.2" fill="url(#hX)" stroke="#111" stroke-width="1.3" />
<rect x="1215.25" y="73.7" width="21.35" height="18.2" fill="#fff" stroke="none" stroke-width="1" />
<rect x="1215.25" y="73.7" width="21.35" height="18.2" fill="url(#hX)" stroke="#111" stroke-width="1.3" />
<rect x="289.4" y="1081" width="18.1" height="18" fill="#fff" stroke="none" stroke-width="1" />
<rect x="289.4" y="1081" width="18.1" height="18" fill="url(#hX)" stroke="#111" stroke-width="1.3" />
<rect x="1496.5" y="1081" width="18.1" height="18" fill="#fff" stroke="none" stroke-width="1" />
<rect x="1496.5" y="1081" width="18.1" height="18" fill="url(#hX)" stroke="#111" stroke-width="1.3" />
<rect x="567.4" y="1081" width="21.35" height="18" fill="#fff" stroke="none" stroke-width="1" />
<rect x="567.4" y="1081" width="21.35" height="18" fill="url(#hX)" stroke="#111" stroke-width="1.3" />
<rect x="1215.25" y="1081" width="21.35" height="18" fill="#fff" stroke="none" stroke-width="1" />
<rect x="1215.25" y="1081" width="21.35" height="18" fill="url(#hX)" stroke="#111" stroke-width="1.3" />
<rect x="567.4" y="487" width="21.35" height="21.3" fill="#fff" stroke="none" stroke-width="1" />
<rect x="567.4" y="487" width="21.35" height="21.3" fill="url(#hX)" stroke="#111" stroke-width="1.3" />
<rect x="1215.25" y="487" width="21.35" height="21.3" fill="#fff" stroke="none" stroke-width="1" />
<rect x="1215.25" y="487" width="21.35" height="21.3" fill="url(#hX)" stroke="#111" stroke-width="1.3" />
<rect x="567.4" y="786" width="21.35" height="21.5" fill="#fff" stroke="none" stroke-width="1" />
<rect x="567.4" y="786" width="21.35" height="21.5" fill="url(#hX)" stroke="#111" stroke-width="1.3" />
<rect x="1215.25" y="786" width="21.35" height="21.5" fill="#fff" stroke="none" stroke-width="1" />
<rect x="1215.25" y="786" width="21.35" height="21.5" fill="url(#hX)" stroke="#111" stroke-width="1.3" />
<circle cx="837.6" cy="122.9" r="7.2" fill="#fff" stroke="#000" stroke-width="1.3"/>
<path d="M837.6,122.9 L844.8,122.9 A7.2,7.2 0 0 0 837.6,115.7 Z" fill="#000"/>
<path d="M837.6,122.9 L830.4,122.9 A7.2,7.2 0 0 0 837.6,130.1 Z" fill="#000"/>
<line x1="822.6" y1="122.9" x2="852.6" y2="122.9" stroke="#000" stroke-width="1.1" />
<line x1="837.6" y1="107.9" x2="837.6" y2="137.9" stroke="#000" stroke-width="1.1" />
<circle cx="856.6" cy="433" r="7.2" fill="#fff" stroke="#000" stroke-width="1.3"/>
<path d="M856.6,433 L863.8,433 A7.2,7.2 0 0 0 856.6,425.8 Z" fill="#000"/>
<path d="M856.6,433 L849.4,433 A7.2,7.2 0 0 0 856.6,440.2 Z" fill="#000"/>
<line x1="841.6" y1="433" x2="871.6" y2="433" stroke="#000" stroke-width="1.1" />
<line x1="856.6" y1="418" x2="856.6" y2="448" stroke="#000" stroke-width="1.1" />
<line x1="218.3" y1="220.1" x2="322" y2="220.1" stroke="#333" stroke-width="1.3" />
<text x="270.4" y="212.9" font-size="20" text-anchor="end" fill="#000" >1,00</text>
<text x="270.4" y="241.9" font-size="20" text-anchor="end" fill="#000" >2,40</text>
<line x1="1482" y1="220.1" x2="1586" y2="220.1" stroke="#333" stroke-width="1.3" />
<text x="1532" y="212.9" font-size="20" text-anchor="start" fill="#000" >1,00</text>
<text x="1532" y="241.9" font-size="20" text-anchor="start" fill="#000" >2,40</text>
<line x1="218.3" y1="291" x2="322" y2="291" stroke="#333" stroke-width="1.3" />
<text x="270.4" y="283.8" font-size="20" text-anchor="end" fill="#000" >1,00</text>
<text x="270.4" y="312.8" font-size="20" text-anchor="end" fill="#000" >2,40</text>
<line x1="1482" y1="291" x2="1586" y2="291" stroke="#333" stroke-width="1.3" />
<text x="1532" y="283.8" font-size="20" text-anchor="start" fill="#000" >1,00</text>
<text x="1532" y="312.8" font-size="20" text-anchor="start" fill="#000" >2,40</text>
<line x1="218.3" y1="405" x2="322" y2="405" stroke="#333" stroke-width="1.3" />
<text x="270.4" y="397.8" font-size="20" text-anchor="end" fill="#000" >1,00</text>
<text x="270.4" y="426.8" font-size="20" text-anchor="end" fill="#000" >2,40</text>
<line x1="1482" y1="405" x2="1586" y2="405" stroke="#333" stroke-width="1.3" />
<text x="1532" y="397.8" font-size="20" text-anchor="start" fill="#000" >1,00</text>
<text x="1532" y="426.8" font-size="20" text-anchor="start" fill="#000" >2,40</text>
<line x1="218.3" y1="586.5" x2="322" y2="586.5" stroke="#333" stroke-width="1.3" />
<text x="270.4" y="579.3" font-size="20" text-anchor="end" fill="#000" >1,00</text>
<text x="270.4" y="608.3" font-size="20" text-anchor="end" fill="#000" >2,40</text>
<line x1="1482" y1="586.5" x2="1586" y2="586.5" stroke="#333" stroke-width="1.3" />
<text x="1532" y="579.3" font-size="20" text-anchor="start" fill="#000" >1,00</text>
<text x="1532" y="608.3" font-size="20" text-anchor="start" fill="#000" >2,40</text>
<line x1="218.3" y1="768.3" x2="322" y2="768.3" stroke="#333" stroke-width="1.3" />
<text x="270.4" y="761.1" font-size="20" text-anchor="end" fill="#000" >1,00</text>
<text x="270.4" y="790.1" font-size="20" text-anchor="end" fill="#000" >2,40</text>
<line x1="1482" y1="768.3" x2="1586" y2="768.3" stroke="#333" stroke-width="1.3" />
<text x="1532" y="761.1" font-size="20" text-anchor="start" fill="#000" >1,00</text>
<text x="1532" y="790.1" font-size="20" text-anchor="start" fill="#000" >2,40</text>
<line x1="218.3" y1="881.7" x2="322" y2="881.7" stroke="#333" stroke-width="1.3" />
<text x="270.4" y="874.5" font-size="20" text-anchor="end" fill="#000" >1,00</text>
<text x="270.4" y="903.5" font-size="20" text-anchor="end" fill="#000" >2,40</text>
<line x1="1482" y1="881.7" x2="1586" y2="881.7" stroke="#333" stroke-width="1.3" />
<text x="1532" y="874.5" font-size="20" text-anchor="start" fill="#000" >1,00</text>
<text x="1532" y="903.5" font-size="20" text-anchor="start" fill="#000" >2,40</text>
<line x1="218.3" y1="952.7" x2="322" y2="952.7" stroke="#333" stroke-width="1.3" />
<text x="270.4" y="945.5" font-size="20" text-anchor="end" fill="#000" >1,00</text>
<text x="270.4" y="974.5" font-size="20" text-anchor="end" fill="#000" >2,40</text>
<line x1="1482" y1="952.7" x2="1586" y2="952.7" stroke="#333" stroke-width="1.3" />
<text x="1532" y="945.5" font-size="20" text-anchor="start" fill="#000" >1,00</text>
<text x="1532" y="974.5" font-size="20" text-anchor="start" fill="#000" >2,40</text>
<line x1="624.6" y1="269" x2="624.6" y2="348.4" stroke="#333" stroke-width="1.3" />
<text transform="translate(617.5,303) rotate(-90)" font-size="20" text-anchor="middle" fill="#000">1,00</text>
<text transform="translate(646.2,303) rotate(-90)" font-size="20" text-anchor="middle" fill="#000">2,10</text>
<line x1="1179.75" y1="270" x2="1179.75" y2="348.4" stroke="#333" stroke-width="1.3" />
<text transform="translate(1172,303) rotate(-90)" font-size="20" text-anchor="middle" fill="#000">1,00</text>
<text transform="translate(1201.3,303) rotate(-90)" font-size="20" text-anchor="middle" fill="#000">2,10</text>
<line x1="496.5" y1="312.7" x2="496.5" y2="390.8" stroke="#333" stroke-width="1.3" />
<text transform="translate(488.9,365.3) rotate(-90)" font-size="20" text-anchor="middle" fill="#000">90</text>
<text transform="translate(517.8,357.5) rotate(-90)" font-size="20" text-anchor="middle" fill="#000">2,10</text>
<line x1="1307.6" y1="312.4" x2="1307.6" y2="391" stroke="#333" stroke-width="1.3" />
<text transform="translate(1300,365.3) rotate(-90)" font-size="20" text-anchor="middle" fill="#000">90</text>
<text transform="translate(1329.2,357.5) rotate(-90)" font-size="20" text-anchor="middle" fill="#000">2,10</text>
<line x1="711.4" y1="351" x2="711.4" y2="430" stroke="#333" stroke-width="1.3" />
<text transform="translate(704.2,404) rotate(-90)" font-size="20" text-anchor="middle" fill="#000">75</text>
<text transform="translate(733,396.8) rotate(-90)" font-size="20" text-anchor="middle" fill="#000">2,10</text>
<line x1="1092.4" y1="351" x2="1092.4" y2="430" stroke="#333" stroke-width="1.3" />
<text transform="translate(1085.3,404) rotate(-90)" font-size="20" text-anchor="middle" fill="#000">75</text>
<text transform="translate(1114.5,396.8) rotate(-90)" font-size="20" text-anchor="middle" fill="#000">2,10</text>
<line x1="708.3" y1="607.8" x2="708.3" y2="690" stroke="#333" stroke-width="1.3" />
<text transform="translate(700.6,660.8) rotate(-90)" font-size="20" text-anchor="middle" fill="#000">75</text>
<text transform="translate(729.2,653.7) rotate(-90)" font-size="20" text-anchor="middle" fill="#000">2,10</text>
<line x1="1096" y1="607.8" x2="1096" y2="690" stroke="#333" stroke-width="1.3" />
<text transform="translate(1087.5,660.8) rotate(-90)" font-size="20" text-anchor="middle" fill="#000">75</text>
<text transform="translate(1117,653.7) rotate(-90)" font-size="20" text-anchor="middle" fill="#000">2,10</text>
<line x1="631" y1="782" x2="631" y2="861" stroke="#333" stroke-width="1.3" />
<text transform="translate(624.6,815.5) rotate(-90)" font-size="20" text-anchor="middle" fill="#000">1,00</text>
<text transform="translate(653.25,815.5) rotate(-90)" font-size="20" text-anchor="middle" fill="#000">2,10</text>
<line x1="1173" y1="782" x2="1173" y2="861" stroke="#333" stroke-width="1.3" />
<text transform="translate(1165.4,815.5) rotate(-90)" font-size="20" text-anchor="middle" fill="#000">1,00</text>
<text transform="translate(1194.5,815.5) rotate(-90)" font-size="20" text-anchor="middle" fill="#000">2,10</text>
<line x1="734.4" y1="408.2" x2="827.7" y2="408.2" stroke="#333" stroke-width="1.3" />
<text x="767.6" y="401.1" font-size="20" text-anchor="middle" fill="#000" >1,00</text>
<text x="767.2" y="430" font-size="20" text-anchor="middle" fill="#000" >2,10</text>
<line x1="734.3" y1="586" x2="827.7" y2="586" stroke="#333" stroke-width="1.3" />
<text x="767.7" y="578.3" font-size="20" text-anchor="middle" fill="#000" >1,00</text>
<text x="767.7" y="607.3" font-size="20" text-anchor="middle" fill="#000" >2,10</text>
<line x1="976.7" y1="408.2" x2="1070" y2="408.2" stroke="#333" stroke-width="1.3" />
<text x="1035.7" y="401.1" font-size="20" text-anchor="middle" fill="#000" >1,00</text>
<text x="1035.7" y="430" font-size="20" text-anchor="middle" fill="#000" >2,10</text>
<line x1="976.7" y1="586" x2="1070" y2="586" stroke="#333" stroke-width="1.3" />
<text x="1035.7" y="578.3" font-size="20" text-anchor="middle" fill="#000" >1,00</text>
<text x="1035.7" y="607.3" font-size="20" text-anchor="middle" fill="#000" >2,10</text>
<line x1="524" y1="640" x2="603.3" y2="640" stroke="#333" stroke-width="1.3" />
<text x="549" y="632.3" font-size="20" text-anchor="middle" fill="#000" >90</text>
<text x="556.7" y="660.7" font-size="20" text-anchor="middle" fill="#000" >2,10</text>
<line x1="524" y1="718.3" x2="603.3" y2="718.3" stroke="#333" stroke-width="1.3" />
<text x="549" y="710.7" font-size="20" text-anchor="middle" fill="#000" >90</text>
<text x="556.7" y="739" font-size="20" text-anchor="middle" fill="#000" >2,10</text>
<line x1="1200" y1="640" x2="1280" y2="640" stroke="#333" stroke-width="1.3" />
<text x="1253.3" y="632.3" font-size="20" text-anchor="middle" fill="#000" >90</text>
<text x="1245" y="660.7" font-size="20" text-anchor="middle" fill="#000" >2,10</text>
<line x1="1200" y1="718.3" x2="1280" y2="718.3" stroke="#333" stroke-width="1.3" />
<text x="1253.3" y="710.7" font-size="20" text-anchor="middle" fill="#000" >90</text>
<text x="1245" y="739" font-size="20" text-anchor="middle" fill="#000" >2,10</text>
<line x1="656" y1="727.3" x2="735" y2="727.3" stroke="#333" stroke-width="1.3" />
<text x="709.3" y="720.7" font-size="20" text-anchor="middle" fill="#000" >75</text>
<text x="701" y="748.3" font-size="20" text-anchor="middle" fill="#000" >2,10</text>
<line x1="1068.3" y1="727.3" x2="1147.3" y2="727.3" stroke="#333" stroke-width="1.3" />
<text x="1094" y="720.7" font-size="20" text-anchor="middle" fill="#000" >75</text>
<text x="1101.7" y="748.3" font-size="20" text-anchor="middle" fill="#000" >2,10</text>
<text x="972.05" y="41.9" font-size="51" font-weight="bold" text-anchor="middle" textLength="284.29" lengthAdjust="spacingAndGlyphs" fill="#e8432a" >első emelet</text>
<text x="489.75" y="138.7" font-size="24" font-weight="bold" text-anchor="middle" textLength="214.26" lengthAdjust="spacingAndGlyphs" fill="#000" >3. Lakás - 55,07m2</text>
<rect x="383.2" y="141" width="213.6" height="1.7" fill="#000" stroke="none" stroke-width="1" />
<text x="1321.35" y="138.7" font-size="24" font-weight="bold" text-anchor="middle" textLength="214.86" lengthAdjust="spacingAndGlyphs" fill="#000" >6. Lakás - 55,07m2</text>
<rect x="1214.5" y="141" width="214.2" height="1.7" fill="#000" stroke="none" stroke-width="1" />
<text x="492.65" y="1026.7" font-size="24" font-weight="bold" text-anchor="middle" textLength="215.46" lengthAdjust="spacingAndGlyphs" fill="#000" >4. Lakás - 65,83m2</text>
<rect x="385.5" y="1029" width="214.8" height="1.7" fill="#000" stroke="none" stroke-width="1" />
<text x="1315" y="1026.7" font-size="24" font-weight="bold" text-anchor="middle" textLength="215.56" lengthAdjust="spacingAndGlyphs" fill="#000" >5. Lakás - 65,83m2</text>
<rect x="1207.8" y="1029" width="214.9" height="1.7" fill="#000" stroke="none" stroke-width="1" />
<text x="489.75" y="163.7" font-size="24" text-anchor="middle" textLength="301.06" lengthAdjust="spacingAndGlyphs" fill="#000" >(36,17m2 + 18,90m2 tároló)</text>
<text x="1320.85" y="163.7" font-size="24" text-anchor="middle" textLength="303.86" lengthAdjust="spacingAndGlyphs" fill="#000" >(36,17m2 + 18,90m2 tároló)</text>
<text x="493" y="1052.3" font-size="24" text-anchor="middle" textLength="289.56" lengthAdjust="spacingAndGlyphs" fill="#000" >(60,70m2 + 5,13m2 tároló)</text>
<text x="1315.35" y="1052.3" font-size="24" text-anchor="middle" textLength="289.46" lengthAdjust="spacingAndGlyphs" fill="#000" >(60,70m2 + 5,13m2 tároló)</text>
<text x="484.25" y="202.05" font-size="20" font-weight="bold" text-anchor="middle" textLength="82.3" lengthAdjust="spacingAndGlyphs" fill="#000" >NAPPALI</text>
<text x="484.25" y="221.7" font-size="17" text-anchor="middle" fill="#000" >greslap</text>
<text x="484.8" y="241" font-size="17" text-anchor="middle" fill="#000" >16,34 m²</text>
<text x="1318.5" y="202.05" font-size="20" font-weight="bold" text-anchor="middle" textLength="84.8" lengthAdjust="spacingAndGlyphs" fill="#000" >NAPPALI</text>
<text x="1319.35" y="221.7" font-size="17" text-anchor="middle" fill="#000" >greslap</text>
<text x="1319.2" y="241" font-size="17" text-anchor="middle" fill="#000" >16,34 m²</text>
<text x="718.4" y="157.9" font-size="20" font-weight="bold" text-anchor="middle" textLength="84.6" lengthAdjust="spacingAndGlyphs" fill="#000" >KONYHA</text>
<text x="717.55" y="177.9" font-size="17" text-anchor="middle" fill="#000" >greslap</text>
<text x="717.95" y="196.6" font-size="17" text-anchor="middle" fill="#000" >3,52 m²</text>
<text x="1085.8" y="157.9" font-size="20" font-weight="bold" text-anchor="middle" textLength="84.8" lengthAdjust="spacingAndGlyphs" fill="#000" >KONYHA</text>
<text x="1085.3" y="177.9" font-size="17" text-anchor="middle" fill="#000" >greslap</text>
<text x="1085.85" y="196.6" font-size="17" text-anchor="middle" fill="#000" >3,52 m²</text>
<text x="914.6" y="136.3" font-size="20" font-weight="bold" text-anchor="middle" textLength="80.6" lengthAdjust="spacingAndGlyphs" fill="#000" >LÉPCSŐ</text>
<text x="914.4" y="155" font-size="17" text-anchor="middle" fill="#000" >greslap</text>
<text x="914.9" y="174.8" font-size="17" text-anchor="middle" fill="#000" >11,28 m²</text>
<text x="723.3" y="303.3" font-size="20" font-weight="bold" text-anchor="middle" textLength="69.8" lengthAdjust="spacingAndGlyphs" fill="#000" >FÜRDŐ</text>
<text x="723.35" y="323.3" font-size="17" text-anchor="middle" fill="#000" >greslap</text>
<text x="723" y="342.3" font-size="17" text-anchor="middle" fill="#000" >2,92 m²</text>
<text x="1079.5" y="303.3" font-size="20" font-weight="bold" text-anchor="middle" textLength="69.4" lengthAdjust="spacingAndGlyphs" fill="#000" >FÜRDŐ</text>
<text x="1080" y="323.3" font-size="17" text-anchor="middle" fill="#000" >greslap</text>
<text x="1080.3" y="342.3" font-size="17" text-anchor="middle" fill="#000" >2,92 m²</text>
<text x="441.15" y="396.7" font-size="20" font-weight="bold" text-anchor="middle" textLength="69.5" lengthAdjust="spacingAndGlyphs" fill="#000" >SZOBA</text>
<text x="442.2" y="417.3" font-size="17" text-anchor="middle" fill="#000" >parketta</text>
<text x="442" y="436" font-size="17" text-anchor="middle" fill="#000" >8,28 m²</text>
<text x="1361.65" y="396.7" font-size="20" font-weight="bold" text-anchor="middle" textLength="68.5" lengthAdjust="spacingAndGlyphs" fill="#000" >SZOBA</text>
<text x="1361.35" y="417.3" font-size="17" text-anchor="middle" fill="#000" >parketta</text>
<text x="1361" y="436" font-size="17" text-anchor="middle" fill="#000" >8,28 m²</text>
<text x="644.85" y="410.5" font-size="20" font-weight="bold" text-anchor="middle" textLength="80.1" lengthAdjust="spacingAndGlyphs" fill="#000" >ELŐTÉR</text>
<text x="644.85" y="430.8" font-size="17" text-anchor="middle" fill="#000" >greslap</text>
<text x="644.85" y="448.5" font-size="17" text-anchor="middle" fill="#000" >5,11 m²</text>
<text x="1158.15" y="410.5" font-size="20" font-weight="bold" text-anchor="middle" textLength="80.1" lengthAdjust="spacingAndGlyphs" fill="#000" >ELŐTÉR</text>
<text x="1159" y="430.7" font-size="17" text-anchor="middle" fill="#000" >greslap</text>
<text x="1159.2" y="449.3" font-size="17" text-anchor="middle" fill="#000" >5,11 m²</text>
<text x="901.7" y="476" font-size="20" font-weight="bold" text-anchor="middle" textLength="121.8" lengthAdjust="spacingAndGlyphs" fill="#000" >LÉPCSŐHÁZ</text>
<text x="901.65" y="496" font-size="17" text-anchor="middle" fill="#000" >greslap</text>
<text x="901.3" y="514.3" font-size="17" text-anchor="middle" fill="#000" >9,87 m²</text>
<text x="660.5" y="563.3" font-size="20" font-weight="bold" text-anchor="middle" textLength="80.8" lengthAdjust="spacingAndGlyphs" fill="#000" >ELŐTÉR</text>
<text x="660.4" y="583.4" font-size="17" text-anchor="middle" fill="#000" >greslap</text>
<text x="660.88" y="602.2" font-size="17" text-anchor="middle" fill="#000" >8,07 m²</text>
<text x="1143.5" y="563.3" font-size="20" font-weight="bold" text-anchor="middle" textLength="80.2" lengthAdjust="spacingAndGlyphs" fill="#000" >ELŐTÉR</text>
<text x="1143" y="583.3" font-size="17" text-anchor="middle" fill="#000" >greslap</text>
<text x="1143" y="601.5" font-size="17" text-anchor="middle" fill="#000" >8,07 m²</text>
<text x="441.15" y="581" font-size="20" font-weight="bold" text-anchor="middle" textLength="69.5" lengthAdjust="spacingAndGlyphs" fill="#000" >SZOBA</text>
<text x="440.85" y="600.7" font-size="17" text-anchor="middle" fill="#000" >parketta</text>
<text x="441" y="620" font-size="17" text-anchor="middle" fill="#000" >9,05 m²</text>
<text x="1362.65" y="581" font-size="20" font-weight="bold" text-anchor="middle" textLength="68.5" lengthAdjust="spacingAndGlyphs" fill="#000" >SZOBA</text>
<text x="1362.5" y="600.7" font-size="17" text-anchor="middle" fill="#000" >parketta</text>
<text x="1362.35" y="620" font-size="17" text-anchor="middle" fill="#000" >9,05 m²</text>
<text x="751.2" y="650" font-size="20" font-weight="bold" text-anchor="middle" textLength="32.8" lengthAdjust="spacingAndGlyphs" fill="#000" >WC</text>
<text x="751.85" y="669.3" font-size="17" text-anchor="middle" fill="#000" >greslap</text>
<text x="751.65" y="688.3" font-size="17" text-anchor="middle" fill="#000" >1,44 m²</text>
<text x="1052.2" y="650" font-size="20" font-weight="bold" text-anchor="middle" textLength="32.8" lengthAdjust="spacingAndGlyphs" fill="#000" >WC</text>
<text x="1051.85" y="669.3" font-size="17" text-anchor="middle" fill="#000" >greslap</text>
<text x="1052.5" y="688.3" font-size="17" text-anchor="middle" fill="#000" >1,44 m²</text>
<text x="838.3" y="701.7" font-size="20" font-weight="bold" text-anchor="middle" textLength="69.8" lengthAdjust="spacingAndGlyphs" fill="#000" >FÜRDŐ</text>
<text x="838" y="721.7" font-size="17" text-anchor="middle" fill="#000" >greslap</text>
<text x="838.35" y="740" font-size="17" text-anchor="middle" fill="#000" >4,19 m²</text>
<text x="965.15" y="701.7" font-size="20" font-weight="bold" text-anchor="middle" textLength="70.1" lengthAdjust="spacingAndGlyphs" fill="#000" >FÜRDŐ</text>
<text x="965" y="721.7" font-size="17" text-anchor="middle" fill="#000" >greslap</text>
<text x="965" y="740" font-size="17" text-anchor="middle" fill="#000" >4,19 m²</text>
<text x="443.3" y="750.7" font-size="20" font-weight="bold" text-anchor="middle" textLength="69.8" lengthAdjust="spacingAndGlyphs" fill="#000" >SZOBA</text>
<text x="443" y="770.7" font-size="17" text-anchor="middle" fill="#000" >parketta</text>
<text x="443" y="789.3" font-size="17" text-anchor="middle" fill="#000" >8,41 m²</text>
<text x="1360.5" y="750.7" font-size="20" font-weight="bold" text-anchor="middle" textLength="69.4" lengthAdjust="spacingAndGlyphs" fill="#000" >SZOBA</text>
<text x="1360.85" y="770.7" font-size="17" text-anchor="middle" fill="#000" >parketta</text>
<text x="1360.3" y="789.3" font-size="17" text-anchor="middle" fill="#000" >8,41 m²</text>
<text x="778.85" y="847.3" font-size="20" font-weight="bold" text-anchor="middle" textLength="86.1" lengthAdjust="spacingAndGlyphs" fill="#000" >KONYHA</text>
<text x="779" y="866.7" font-size="17" text-anchor="middle" fill="#000" >greslap</text>
<text x="778.65" y="886" font-size="17" text-anchor="middle" fill="#000" >4,80 m²</text>
<text x="1024.7" y="847.3" font-size="20" font-weight="bold" text-anchor="middle" textLength="85.8" lengthAdjust="spacingAndGlyphs" fill="#000" >KONYHA</text>
<text x="1024.7" y="866.7" font-size="17" text-anchor="middle" fill="#000" >greslap</text>
<text x="1024.5" y="886" font-size="17" text-anchor="middle" fill="#000" >4,80 m²</text>
<text x="494.15" y="947.3" font-size="20" font-weight="bold" text-anchor="middle" textLength="83.5" lengthAdjust="spacingAndGlyphs" fill="#000" >NAPPALI</text>
<text x="494.15" y="966.7" font-size="17" text-anchor="middle" fill="#000" >parketta</text>
<text x="494.2" y="986" font-size="17" text-anchor="middle" fill="#000" >17,16 m²</text>
<text x="1309" y="947.3" font-size="20" font-weight="bold" text-anchor="middle" textLength="83.8" lengthAdjust="spacingAndGlyphs" fill="#000" >NAPPALI</text>
<text x="1309" y="966.7" font-size="17" text-anchor="middle" fill="#000" >parketta</text>
<text x="1309.65" y="986" font-size="17" text-anchor="middle" fill="#000" >17,16 m²</text>
<text x="783.15" y="984.3" font-size="20" font-weight="bold" text-anchor="middle" textLength="80.1" lengthAdjust="spacingAndGlyphs" fill="#000" >ÉTKEZŐ</text>
<text x="783" y="1004" font-size="17" text-anchor="middle" fill="#000" >greslap</text>
<text x="783.35" y="1023.3" font-size="17" text-anchor="middle" fill="#000" >7,35 m²</text>
<text x="1020.15" y="984.3" font-size="20" font-weight="bold" text-anchor="middle" textLength="80.1" lengthAdjust="spacingAndGlyphs" fill="#000" >ÉTKEZŐ</text>
<text x="1020.3" y="1004" font-size="17" text-anchor="middle" fill="#000" >greslap</text>
<text x="1020.3" y="1023.3" font-size="17" text-anchor="middle" fill="#000" >7,35 m²</text>
<text x="1574.55" y="340" font-size="20" font-weight="bold" text-anchor="middle" textLength="77.9" lengthAdjust="spacingAndGlyphs" fill="#000" >ERKÉLY</text>
<text x="1574.8" y="359.3" font-size="17" text-anchor="middle" fill="#000" >fagyálló kerámia</text>
<text x="1574.8" y="378.5" font-size="17" text-anchor="middle" fill="#000" >5,40 m²</text>
<text x="1577.15" y="813.3" font-size="20" font-weight="bold" text-anchor="middle" textLength="77.5" lengthAdjust="spacingAndGlyphs" fill="#000" >ERKÉLY</text>
<text x="1577.3" y="834" font-size="17" text-anchor="middle" fill="#000" >fagyálló kerámia</text>
<text x="1577.65" y="852.3" font-size="17" text-anchor="middle" fill="#000" >5,40 m²</text>
<text x="822.17" y="679.4" font-size="12.5" text-anchor="middle" fill="#000" >Sz</text>
<text x="867.75" y="679.4" font-size="12.5" text-anchor="middle" fill="#000" >M</text>
<text x="935.62" y="679.4" font-size="12.5" text-anchor="middle" fill="#000" >M</text>
<text x="981.5" y="679.4" font-size="12.5" text-anchor="middle" fill="#000" >Sz</text>
<text x="875.8" y="108.9" font-size="19.5" text-anchor="middle" fill="#000" >+2,43</text>
<text x="895.15" y="418.3" font-size="19.5" text-anchor="middle" fill="#000" >+3,89</text>
<text x="1611.95" y="241" font-size="19.5" text-anchor="middle" fill="#000" >+3,86</text>
<text x="1608.15" y="902.7" font-size="19.5" text-anchor="middle" fill="#000" >+3,86</text>
<text x="1592.25" y="426.6" font-size="20" text-anchor="middle" fill="#000" >1,5%</text>
<text x="1595" y="972.7" font-size="20" text-anchor="middle" fill="#000" >1,5%</text>
<text x="903.85" y="580" font-size="20" text-anchor="middle" fill="#000" >Bm 2,7m</text>
<text x="1340.35" y="290" font-size="20" text-anchor="middle" fill="#000" >Bm 2,7m</text>
<text x="508.8" y="889.3" font-size="20" font-weight="bold" text-anchor="middle" textLength="80.8" lengthAdjust="spacingAndGlyphs" fill="#000" >Bm 2,7m</text>
<text x="226.25" y="1140" font-size="18.5" text-anchor="middle" fill="#000" >Telekhatár</text>
<text transform="translate(328.6,586.6) rotate(-90)" font-size="20" text-anchor="middle" fill="#000">pm 0,00</text>
<text transform="translate(1489.3,586.7) rotate(-90)" font-size="20" text-anchor="middle" fill="#000">pm 0,00</text>
</svg></body></html>
